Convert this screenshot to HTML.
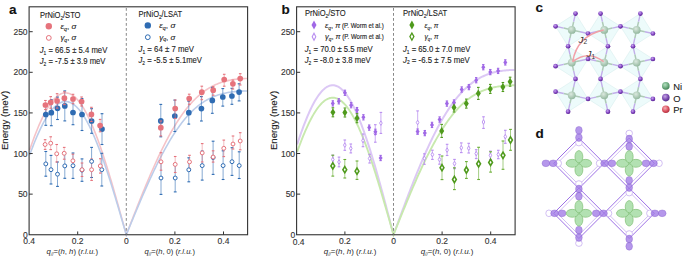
<!DOCTYPE html>
<html><head><meta charset="utf-8"><style>html,body{margin:0;padding:0;background:#fff;}svg{display:block;}</style></head><body>
<svg width="685" height="258" viewBox="0 0 685 258" font-family='"Liberation Sans", sans-serif'>
<rect width="685" height="258" fill="#fff"/>
<path d="M29.70 149.89 L30.50 147.54 L31.31 145.24 L32.11 142.97 L32.92 140.74 L33.72 138.55 L34.53 136.40 L35.33 134.29 L36.14 132.23 L36.94 130.21 L37.75 128.24 L38.56 126.31 L39.36 124.43 L40.17 122.60 L40.97 120.81 L41.78 119.07 L42.58 117.39 L43.38 115.75 L44.19 114.17 L45.00 112.64 L45.80 111.16 L46.61 109.73 L47.41 108.36 L48.22 107.04 L49.02 105.78 L49.83 104.58 L50.63 103.43 L51.44 102.34 L52.24 101.30 L53.04 100.33 L53.85 99.41 L54.65 98.55 L55.46 97.75 L56.27 97.02 L57.07 96.34 L57.88 95.72 L58.68 95.16 L59.48 94.67 L60.29 94.23 L61.09 93.86 L61.90 93.55 L62.70 93.29 L63.51 93.11 L64.31 92.98 L65.12 92.92 L65.92 92.91 L66.73 92.97 L67.53 93.10 L68.34 93.28 L69.14 93.53 L69.95 93.83 L70.75 94.20 L71.56 94.63 L72.36 95.13 L73.17 95.68 L73.97 96.29 L74.78 96.97 L75.58 97.70 L76.39 98.50 L77.19 99.35 L78.00 100.26 L78.81 101.23 L79.61 102.26 L80.41 103.35 L81.22 104.50 L82.02 105.70 L82.83 106.95 L83.63 108.27 L84.44 109.63 L85.24 111.06 L86.05 112.53 L86.85 114.06 L87.66 115.64 L88.46 117.27 L89.27 118.96 L90.07 120.69 L90.88 122.47 L91.69 124.30 L92.49 126.18 L93.29 128.11 L94.10 130.08 L94.91 132.09 L95.71 134.15 L96.51 136.26 L97.32 138.40 L98.12 140.59 L98.93 142.81 L99.73 145.08 L100.54 147.38 L101.34 149.73 L102.15 152.10 L102.95 154.52 L103.76 156.96 L104.56 159.44 L105.37 161.96 L106.17 164.50 L106.98 167.07 L107.78 169.67 L108.59 172.30 L109.39 174.96 L110.20 177.64 L111.00 180.34 L111.81 183.07 L112.61 185.82 L113.42 188.59 L114.22 191.38 L115.03 194.19 L115.84 197.02 L116.64 199.86 L117.44 202.71 L118.25 205.58 L119.06 208.46 L119.86 211.36 L120.66 214.26 L121.47 217.17 L122.28 220.09 L123.08 223.01 L123.88 225.94 L124.69 228.88 L125.50 231.81 L126.30 234.75 L127.31 232.16 L128.31 229.56 L129.32 226.97 L130.32 224.38 L131.33 221.79 L132.34 219.21 L133.34 216.64 L134.35 214.07 L135.35 211.51 L136.36 208.96 L137.36 206.41 L138.37 203.88 L139.38 201.36 L140.38 198.85 L141.39 196.35 L142.39 193.87 L143.40 191.40 L144.41 188.95 L145.41 186.51 L146.42 184.09 L147.42 181.69 L148.43 179.31 L149.43 176.95 L150.44 174.60 L151.45 172.28 L152.45 169.98 L153.46 167.70 L154.46 165.45 L155.47 163.22 L156.47 161.01 L157.48 158.83 L158.49 156.68 L159.49 154.55 L160.50 152.45 L161.50 150.37 L162.51 148.33 L163.52 146.31 L164.52 144.32 L165.53 142.36 L166.53 140.43 L167.54 138.53 L168.54 136.66 L169.55 134.82 L170.56 133.01 L171.56 131.24 L172.57 129.50 L173.57 127.78 L174.58 126.11 L175.59 124.46 L176.59 122.85 L177.60 121.26 L178.60 119.72 L179.61 118.20 L180.62 116.72 L181.62 115.27 L182.63 113.86 L183.63 112.48 L184.64 111.13 L185.64 109.81 L186.65 108.53 L187.66 107.28 L188.66 106.07 L189.67 104.88 L190.67 103.73 L191.68 102.62 L192.69 101.53 L193.69 100.47 L194.70 99.45 L195.70 98.46 L196.71 97.50 L197.71 96.57 L198.72 95.67 L199.73 94.80 L200.73 93.96 L201.74 93.15 L202.74 92.37 L203.75 91.61 L204.75 90.88 L205.76 90.19 L206.77 89.51 L207.77 88.87 L208.78 88.25 L209.78 87.65 L210.79 87.08 L211.80 86.53 L212.80 86.01 L213.81 85.51 L214.81 85.03 L215.82 84.58 L216.82 84.14 L217.83 83.73 L218.84 83.34 L219.84 82.96 L220.85 82.61 L221.85 82.27 L222.86 81.95 L223.87 81.65 L224.87 81.37 L225.88 81.10 L226.88 80.85 L227.89 80.62 L228.90 80.40 L229.90 80.19 L230.91 80.00 L231.91 79.82 L232.92 79.65 L233.92 79.50 L234.93 79.36 L235.94 79.23 L236.94 79.11 L237.95 79.01 L238.95 78.91 L239.96 78.83 L240.96 78.76 L241.97 78.70 L242.98 78.64 L243.98 78.60 L244.99 78.57 L245.99 78.55 L247.00 78.53" fill="none" stroke="#f5c3c8" stroke-width="1.6"/>
<path d="M29.70 154.94 L30.50 152.74 L31.31 150.58 L32.11 148.45 L32.92 146.36 L33.72 144.30 L34.53 142.29 L35.33 140.31 L36.14 138.37 L36.94 136.48 L37.75 134.63 L38.56 132.82 L39.36 131.06 L40.17 129.34 L40.97 127.66 L41.78 126.04 L42.58 124.45 L43.38 122.92 L44.19 121.44 L45.00 120.00 L45.80 118.62 L46.61 117.28 L47.41 116.00 L48.22 114.76 L49.02 113.58 L49.83 112.45 L50.63 111.38 L51.44 110.36 L52.24 109.39 L53.04 108.48 L53.85 107.62 L54.65 106.82 L55.46 106.07 L56.27 105.38 L57.07 104.74 L57.88 104.16 L58.68 103.64 L59.48 103.18 L60.29 102.77 L61.09 102.42 L61.90 102.13 L62.70 101.90 L63.51 101.72 L64.31 101.60 L65.12 101.54 L65.92 101.54 L66.73 101.60 L67.53 101.71 L68.34 101.88 L69.14 102.11 L69.95 102.40 L70.75 102.75 L71.56 103.15 L72.36 103.61 L73.17 104.13 L73.97 104.70 L74.78 105.33 L75.58 106.02 L76.39 106.76 L77.19 107.56 L78.00 108.42 L78.81 109.33 L79.61 110.29 L80.41 111.31 L81.22 112.38 L82.02 113.50 L82.83 114.68 L83.63 115.91 L84.44 117.19 L85.24 118.52 L86.05 119.91 L86.85 121.34 L87.66 122.82 L88.46 124.35 L89.27 125.93 L90.07 127.55 L90.88 129.22 L91.69 130.94 L92.49 132.70 L93.29 134.50 L94.10 136.35 L94.91 138.24 L95.71 140.18 L96.51 142.15 L97.32 144.16 L98.12 146.21 L98.93 148.30 L99.73 150.43 L100.54 152.59 L101.34 154.79 L102.15 157.03 L102.95 159.29 L103.76 161.59 L104.56 163.92 L105.37 166.28 L106.17 168.67 L106.98 171.09 L107.78 173.53 L108.59 176.01 L109.39 178.50 L110.20 181.02 L111.00 183.57 L111.81 186.13 L112.61 188.72 L113.42 191.32 L114.22 193.95 L115.03 196.59 L115.84 199.24 L116.64 201.92 L117.44 204.60 L118.25 207.30 L119.06 210.01 L119.86 212.74 L120.66 215.47 L121.47 218.21 L122.28 220.95 L123.08 223.71 L123.88 226.46 L124.69 229.22 L125.50 231.99 L126.30 234.75 L127.31 232.31 L128.31 229.87 L129.32 227.43 L130.32 224.99 L131.33 222.56 L132.34 220.13 L133.34 217.71 L134.35 215.29 L135.35 212.88 L136.36 210.48 L137.36 208.09 L138.37 205.71 L139.38 203.34 L140.38 200.98 L141.39 198.63 L142.39 196.30 L143.40 193.98 L144.41 191.68 L145.41 189.39 L146.42 187.12 L147.42 184.87 L148.43 182.63 L149.43 180.42 L150.44 178.22 L151.45 176.05 L152.45 173.89 L153.46 171.76 L154.46 169.65 L155.47 167.56 L156.47 165.50 L157.48 163.46 L158.49 161.45 L159.49 159.46 L160.50 157.50 L161.50 155.57 L162.51 153.66 L163.52 151.78 L164.52 149.93 L165.53 148.10 L166.53 146.31 L167.54 144.55 L168.54 142.81 L169.55 141.11 L170.56 139.43 L171.56 137.79 L172.57 136.18 L173.57 134.60 L174.58 133.05 L175.59 131.53 L176.59 130.04 L177.60 128.59 L178.60 127.17 L179.61 125.78 L180.62 124.42 L181.62 123.09 L182.63 121.80 L183.63 120.54 L184.64 119.31 L185.64 118.11 L186.65 116.95 L187.66 115.82 L188.66 114.71 L189.67 113.64 L190.67 112.61 L191.68 111.60 L192.69 110.62 L193.69 109.68 L194.70 108.76 L195.70 107.87 L196.71 107.02 L197.71 106.19 L198.72 105.39 L199.73 104.62 L200.73 103.88 L201.74 103.17 L202.74 102.48 L203.75 101.82 L204.75 101.19 L205.76 100.58 L206.77 100.00 L207.77 99.44 L208.78 98.91 L209.78 98.40 L210.79 97.91 L211.80 97.44 L212.80 97.00 L213.81 96.58 L214.81 96.18 L215.82 95.80 L216.82 95.44 L217.83 95.09 L218.84 94.77 L219.84 94.46 L220.85 94.17 L221.85 93.90 L222.86 93.64 L223.87 93.40 L224.87 93.18 L225.88 92.96 L226.88 92.76 L227.89 92.58 L228.90 92.41 L229.90 92.25 L230.91 92.10 L231.91 91.96 L232.92 91.83 L233.92 91.72 L234.93 91.61 L235.94 91.51 L236.94 91.42 L237.95 91.34 L238.95 91.27 L239.96 91.21 L240.96 91.16 L241.97 91.11 L242.98 91.07 L243.98 91.04 L244.99 91.02 L245.99 91.00 L247.00 90.99" fill="none" stroke="#bccdea" stroke-width="1.6"/>
<g stroke="#2f6cb3"><line x1="45.80" y1="151.50" x2="45.80" y2="176.20" stroke-width="0.90" opacity="0.64"/><line x1="44.40" y1="151.50" x2="47.20" y2="151.50" stroke-width="1.1"/><line x1="44.40" y1="176.20" x2="47.20" y2="176.20" stroke-width="1.1"/></g>
<g stroke="#2f6cb3"><line x1="51.00" y1="155.40" x2="51.00" y2="184.00" stroke-width="0.90" opacity="0.64"/><line x1="49.60" y1="155.40" x2="52.40" y2="155.40" stroke-width="1.1"/><line x1="49.60" y1="184.00" x2="52.40" y2="184.00" stroke-width="1.1"/></g>
<g stroke="#2f6cb3"><line x1="57.50" y1="162.00" x2="57.50" y2="186.40" stroke-width="0.90" opacity="0.64"/><line x1="56.10" y1="162.00" x2="58.90" y2="162.00" stroke-width="1.1"/><line x1="56.10" y1="186.40" x2="58.90" y2="186.40" stroke-width="1.1"/></g>
<g stroke="#2f6cb3"><line x1="64.80" y1="153.50" x2="64.80" y2="178.30" stroke-width="0.90" opacity="0.64"/><line x1="63.40" y1="153.50" x2="66.20" y2="153.50" stroke-width="1.1"/><line x1="63.40" y1="178.30" x2="66.20" y2="178.30" stroke-width="1.1"/></g>
<g stroke="#2f6cb3"><line x1="73.00" y1="153.00" x2="73.00" y2="178.40" stroke-width="0.90" opacity="0.64"/><line x1="71.60" y1="153.00" x2="74.40" y2="153.00" stroke-width="1.1"/><line x1="71.60" y1="178.40" x2="74.40" y2="178.40" stroke-width="1.1"/></g>
<g stroke="#2f6cb3"><line x1="82.00" y1="158.90" x2="82.00" y2="181.30" stroke-width="0.90" opacity="0.64"/><line x1="80.60" y1="158.90" x2="83.40" y2="158.90" stroke-width="1.1"/><line x1="80.60" y1="181.30" x2="83.40" y2="181.30" stroke-width="1.1"/></g>
<g stroke="#2f6cb3"><line x1="91.60" y1="147.40" x2="91.60" y2="177.50" stroke-width="0.90" opacity="0.64"/><line x1="90.20" y1="147.40" x2="93.00" y2="147.40" stroke-width="1.1"/><line x1="90.20" y1="177.50" x2="93.00" y2="177.50" stroke-width="1.1"/></g>
<g stroke="#2f6cb3"><line x1="101.80" y1="153.30" x2="101.80" y2="186.00" stroke-width="0.90" opacity="0.64"/><line x1="100.40" y1="153.30" x2="103.20" y2="153.30" stroke-width="1.1"/><line x1="100.40" y1="186.00" x2="103.20" y2="186.00" stroke-width="1.1"/></g>
<g stroke="#2f6cb3"><line x1="161.00" y1="161.80" x2="161.00" y2="194.40" stroke-width="0.90" opacity="0.64"/><line x1="159.60" y1="161.80" x2="162.40" y2="161.80" stroke-width="1.1"/><line x1="159.60" y1="194.40" x2="162.40" y2="194.40" stroke-width="1.1"/></g>
<g stroke="#2f6cb3"><line x1="175.20" y1="164.00" x2="175.20" y2="191.90" stroke-width="0.90" opacity="0.64"/><line x1="173.80" y1="164.00" x2="176.60" y2="164.00" stroke-width="1.1"/><line x1="173.80" y1="191.90" x2="176.60" y2="191.90" stroke-width="1.1"/></g>
<g stroke="#2f6cb3"><line x1="188.80" y1="157.80" x2="188.80" y2="181.80" stroke-width="0.90" opacity="0.64"/><line x1="187.40" y1="157.80" x2="190.20" y2="157.80" stroke-width="1.1"/><line x1="187.40" y1="181.80" x2="190.20" y2="181.80" stroke-width="1.1"/></g>
<g stroke="#2f6cb3"><line x1="202.20" y1="151.00" x2="202.20" y2="180.10" stroke-width="0.90" opacity="0.64"/><line x1="200.80" y1="151.00" x2="203.60" y2="151.00" stroke-width="1.1"/><line x1="200.80" y1="180.10" x2="203.60" y2="180.10" stroke-width="1.1"/></g>
<g stroke="#2f6cb3"><line x1="213.10" y1="141.20" x2="213.10" y2="174.40" stroke-width="0.90" opacity="0.64"/><line x1="211.70" y1="141.20" x2="214.50" y2="141.20" stroke-width="1.1"/><line x1="211.70" y1="174.40" x2="214.50" y2="174.40" stroke-width="1.1"/></g>
<g stroke="#2f6cb3"><line x1="223.10" y1="150.80" x2="223.10" y2="179.50" stroke-width="0.90" opacity="0.64"/><line x1="221.70" y1="150.80" x2="224.50" y2="150.80" stroke-width="1.1"/><line x1="221.70" y1="179.50" x2="224.50" y2="179.50" stroke-width="1.1"/></g>
<g stroke="#2f6cb3"><line x1="232.00" y1="147.70" x2="232.00" y2="175.40" stroke-width="0.90" opacity="0.64"/><line x1="230.60" y1="147.70" x2="233.40" y2="147.70" stroke-width="1.1"/><line x1="230.60" y1="175.40" x2="233.40" y2="175.40" stroke-width="1.1"/></g>
<g stroke="#2f6cb3"><line x1="239.20" y1="151.80" x2="239.20" y2="178.50" stroke-width="0.90" opacity="0.64"/><line x1="237.80" y1="151.80" x2="240.60" y2="151.80" stroke-width="1.1"/><line x1="237.80" y1="178.50" x2="240.60" y2="178.50" stroke-width="1.1"/></g>
<g stroke="#e6737c"><line x1="45.10" y1="139.70" x2="45.10" y2="149.40" stroke-width="0.80" opacity="0.60"/><line x1="43.80" y1="139.70" x2="46.40" y2="139.70" stroke-width="1.1"/><line x1="43.80" y1="149.40" x2="46.40" y2="149.40" stroke-width="1.1"/></g>
<g stroke="#e6737c"><line x1="50.70" y1="136.80" x2="50.70" y2="149.60" stroke-width="0.80" opacity="0.60"/><line x1="49.40" y1="136.80" x2="52.00" y2="136.80" stroke-width="1.1"/><line x1="49.40" y1="149.60" x2="52.00" y2="149.60" stroke-width="1.1"/></g>
<g stroke="#e6737c"><line x1="56.70" y1="144.50" x2="56.70" y2="162.00" stroke-width="0.80" opacity="0.60"/><line x1="55.40" y1="144.50" x2="58.00" y2="144.50" stroke-width="1.1"/><line x1="55.40" y1="162.00" x2="58.00" y2="162.00" stroke-width="1.1"/></g>
<g stroke="#e6737c"><line x1="64.20" y1="147.40" x2="64.20" y2="159.20" stroke-width="0.80" opacity="0.60"/><line x1="62.90" y1="147.40" x2="65.50" y2="147.40" stroke-width="1.1"/><line x1="62.90" y1="159.20" x2="65.50" y2="159.20" stroke-width="1.1"/></g>
<g stroke="#e6737c"><line x1="72.90" y1="154.20" x2="72.90" y2="167.40" stroke-width="0.80" opacity="0.60"/><line x1="71.60" y1="154.20" x2="74.20" y2="154.20" stroke-width="1.1"/><line x1="71.60" y1="167.40" x2="74.20" y2="167.40" stroke-width="1.1"/></g>
<g stroke="#e6737c"><line x1="82.00" y1="163.00" x2="82.00" y2="176.50" stroke-width="0.80" opacity="0.60"/><line x1="80.70" y1="163.00" x2="83.30" y2="163.00" stroke-width="1.1"/><line x1="80.70" y1="176.50" x2="83.30" y2="176.50" stroke-width="1.1"/></g>
<g stroke="#e6737c"><line x1="91.60" y1="159.00" x2="91.60" y2="180.40" stroke-width="0.80" opacity="0.60"/><line x1="90.30" y1="159.00" x2="92.90" y2="159.00" stroke-width="1.1"/><line x1="90.30" y1="180.40" x2="92.90" y2="180.40" stroke-width="1.1"/></g>
<g stroke="#e6737c"><line x1="100.30" y1="158.70" x2="100.30" y2="173.10" stroke-width="0.80" opacity="0.60"/><line x1="99.00" y1="158.70" x2="101.60" y2="158.70" stroke-width="1.1"/><line x1="99.00" y1="173.10" x2="101.60" y2="173.10" stroke-width="1.1"/></g>
<g stroke="#e6737c"><line x1="161.00" y1="152.70" x2="161.00" y2="170.20" stroke-width="0.80" opacity="0.60"/><line x1="159.70" y1="152.70" x2="162.30" y2="152.70" stroke-width="1.1"/><line x1="159.70" y1="170.20" x2="162.30" y2="170.20" stroke-width="1.1"/></g>
<g stroke="#e6737c"><line x1="175.20" y1="156.50" x2="175.20" y2="172.50" stroke-width="0.80" opacity="0.60"/><line x1="173.90" y1="156.50" x2="176.50" y2="156.50" stroke-width="1.1"/><line x1="173.90" y1="172.50" x2="176.50" y2="172.50" stroke-width="1.1"/></g>
<g stroke="#e6737c"><line x1="189.50" y1="155.30" x2="189.50" y2="168.50" stroke-width="0.80" opacity="0.60"/><line x1="188.20" y1="155.30" x2="190.80" y2="155.30" stroke-width="1.1"/><line x1="188.20" y1="168.50" x2="190.80" y2="168.50" stroke-width="1.1"/></g>
<g stroke="#e6737c"><line x1="202.20" y1="143.60" x2="202.20" y2="162.00" stroke-width="0.80" opacity="0.60"/><line x1="200.90" y1="143.60" x2="203.50" y2="143.60" stroke-width="1.1"/><line x1="200.90" y1="162.00" x2="203.50" y2="162.00" stroke-width="1.1"/></g>
<g stroke="#e6737c"><line x1="213.10" y1="150.80" x2="213.10" y2="162.10" stroke-width="0.80" opacity="0.60"/><line x1="211.80" y1="150.80" x2="214.40" y2="150.80" stroke-width="1.1"/><line x1="211.80" y1="162.10" x2="214.40" y2="162.10" stroke-width="1.1"/></g>
<g stroke="#e6737c"><line x1="223.80" y1="140.10" x2="223.80" y2="156.60" stroke-width="0.80" opacity="0.60"/><line x1="222.50" y1="140.10" x2="225.10" y2="140.10" stroke-width="1.1"/><line x1="222.50" y1="156.60" x2="225.10" y2="156.60" stroke-width="1.1"/></g>
<g stroke="#e6737c"><line x1="233.00" y1="136.00" x2="233.00" y2="149.00" stroke-width="0.80" opacity="0.60"/><line x1="231.70" y1="136.00" x2="234.30" y2="136.00" stroke-width="1.1"/><line x1="231.70" y1="149.00" x2="234.30" y2="149.00" stroke-width="1.1"/></g>
<g stroke="#e6737c"><line x1="240.20" y1="132.70" x2="240.20" y2="149.80" stroke-width="0.80" opacity="0.60"/><line x1="238.90" y1="132.70" x2="241.50" y2="132.70" stroke-width="1.1"/><line x1="238.90" y1="149.80" x2="241.50" y2="149.80" stroke-width="1.1"/></g>
<circle cx="45.80" cy="163.90" r="1.95" fill="#fff" stroke="#2f6cb3" stroke-width="1.0"/>
<circle cx="51.00" cy="169.70" r="1.95" fill="#fff" stroke="#2f6cb3" stroke-width="1.0"/>
<circle cx="57.50" cy="174.20" r="1.95" fill="#fff" stroke="#2f6cb3" stroke-width="1.0"/>
<circle cx="64.80" cy="165.90" r="1.95" fill="#fff" stroke="#2f6cb3" stroke-width="1.0"/>
<circle cx="73.00" cy="165.70" r="1.95" fill="#fff" stroke="#2f6cb3" stroke-width="1.0"/>
<circle cx="82.00" cy="170.10" r="1.95" fill="#fff" stroke="#2f6cb3" stroke-width="1.0"/>
<circle cx="91.60" cy="161.40" r="1.95" fill="#fff" stroke="#2f6cb3" stroke-width="1.0"/>
<circle cx="101.80" cy="169.70" r="1.95" fill="#fff" stroke="#2f6cb3" stroke-width="1.0"/>
<circle cx="161.00" cy="178.00" r="1.95" fill="#fff" stroke="#2f6cb3" stroke-width="1.0"/>
<circle cx="175.20" cy="178.00" r="1.95" fill="#fff" stroke="#2f6cb3" stroke-width="1.0"/>
<circle cx="188.80" cy="169.80" r="1.95" fill="#fff" stroke="#2f6cb3" stroke-width="1.0"/>
<circle cx="202.20" cy="165.60" r="1.95" fill="#fff" stroke="#2f6cb3" stroke-width="1.0"/>
<circle cx="213.10" cy="157.60" r="1.95" fill="#fff" stroke="#2f6cb3" stroke-width="1.0"/>
<circle cx="223.10" cy="165.60" r="1.95" fill="#fff" stroke="#2f6cb3" stroke-width="1.0"/>
<circle cx="232.00" cy="161.70" r="1.95" fill="#fff" stroke="#2f6cb3" stroke-width="1.0"/>
<circle cx="239.20" cy="165.60" r="1.95" fill="#fff" stroke="#2f6cb3" stroke-width="1.0"/>
<circle cx="45.10" cy="144.50" r="1.95" fill="#fff" stroke="#e6737c" stroke-width="1.0"/>
<circle cx="50.70" cy="143.20" r="1.95" fill="#fff" stroke="#e6737c" stroke-width="1.0"/>
<circle cx="56.70" cy="153.80" r="1.95" fill="#fff" stroke="#e6737c" stroke-width="1.0"/>
<circle cx="64.20" cy="153.30" r="1.95" fill="#fff" stroke="#e6737c" stroke-width="1.0"/>
<circle cx="72.90" cy="160.80" r="1.95" fill="#fff" stroke="#e6737c" stroke-width="1.0"/>
<circle cx="82.00" cy="169.70" r="1.95" fill="#fff" stroke="#e6737c" stroke-width="1.0"/>
<circle cx="91.60" cy="169.70" r="1.95" fill="#fff" stroke="#e6737c" stroke-width="1.0"/>
<circle cx="100.30" cy="165.90" r="1.95" fill="#fff" stroke="#e6737c" stroke-width="1.0"/>
<circle cx="161.00" cy="161.80" r="1.95" fill="#fff" stroke="#e6737c" stroke-width="1.0"/>
<circle cx="175.20" cy="164.40" r="1.95" fill="#fff" stroke="#e6737c" stroke-width="1.0"/>
<circle cx="189.50" cy="161.90" r="1.95" fill="#fff" stroke="#e6737c" stroke-width="1.0"/>
<circle cx="202.20" cy="152.90" r="1.95" fill="#fff" stroke="#e6737c" stroke-width="1.0"/>
<circle cx="213.10" cy="157.00" r="1.95" fill="#fff" stroke="#e6737c" stroke-width="1.0"/>
<circle cx="223.80" cy="148.30" r="1.95" fill="#fff" stroke="#e6737c" stroke-width="1.0"/>
<circle cx="233.00" cy="144.00" r="1.95" fill="#fff" stroke="#e6737c" stroke-width="1.0"/>
<circle cx="240.20" cy="141.00" r="1.95" fill="#fff" stroke="#e6737c" stroke-width="1.0"/>
<g stroke="#2f6cb3"><line x1="45.80" y1="103.70" x2="45.80" y2="125.30" stroke-width="0.90" opacity="0.64"/><line x1="44.40" y1="103.70" x2="47.20" y2="103.70" stroke-width="1.1"/><line x1="44.40" y1="125.30" x2="47.20" y2="125.30" stroke-width="1.1"/></g>
<g stroke="#2f6cb3"><line x1="51.30" y1="99.70" x2="51.30" y2="125.70" stroke-width="0.90" opacity="0.64"/><line x1="49.90" y1="99.70" x2="52.70" y2="99.70" stroke-width="1.1"/><line x1="49.90" y1="125.70" x2="52.70" y2="125.70" stroke-width="1.1"/></g>
<g stroke="#2f6cb3"><line x1="57.50" y1="97.10" x2="57.50" y2="119.50" stroke-width="0.90" opacity="0.64"/><line x1="56.10" y1="97.10" x2="58.90" y2="97.10" stroke-width="1.1"/><line x1="56.10" y1="119.50" x2="58.90" y2="119.50" stroke-width="1.1"/></g>
<g stroke="#2f6cb3"><line x1="64.80" y1="90.90" x2="64.80" y2="120.90" stroke-width="0.90" opacity="0.64"/><line x1="63.40" y1="90.90" x2="66.20" y2="90.90" stroke-width="1.1"/><line x1="63.40" y1="120.90" x2="66.20" y2="120.90" stroke-width="1.1"/></g>
<g stroke="#2f6cb3"><line x1="73.00" y1="100.30" x2="73.00" y2="124.70" stroke-width="0.90" opacity="0.64"/><line x1="71.60" y1="100.30" x2="74.40" y2="100.30" stroke-width="1.1"/><line x1="71.60" y1="124.70" x2="74.40" y2="124.70" stroke-width="1.1"/></g>
<g stroke="#2f6cb3"><line x1="82.00" y1="98.50" x2="82.00" y2="130.50" stroke-width="0.90" opacity="0.64"/><line x1="80.60" y1="98.50" x2="83.40" y2="98.50" stroke-width="1.1"/><line x1="80.60" y1="130.50" x2="83.40" y2="130.50" stroke-width="1.1"/></g>
<g stroke="#2f6cb3"><line x1="91.60" y1="108.70" x2="91.60" y2="133.30" stroke-width="0.90" opacity="0.64"/><line x1="90.20" y1="108.70" x2="93.00" y2="108.70" stroke-width="1.1"/><line x1="90.20" y1="133.30" x2="93.00" y2="133.30" stroke-width="1.1"/></g>
<g stroke="#2f6cb3"><line x1="102.00" y1="113.70" x2="102.00" y2="144.50" stroke-width="0.90" opacity="0.64"/><line x1="100.60" y1="113.70" x2="103.40" y2="113.70" stroke-width="1.1"/><line x1="100.60" y1="144.50" x2="103.40" y2="144.50" stroke-width="1.1"/></g>
<g stroke="#2f6cb3"><line x1="160.80" y1="104.40" x2="160.80" y2="136.80" stroke-width="0.90" opacity="0.64"/><line x1="159.40" y1="104.40" x2="162.20" y2="104.40" stroke-width="1.1"/><line x1="159.40" y1="136.80" x2="162.20" y2="136.80" stroke-width="1.1"/></g>
<g stroke="#2f6cb3"><line x1="174.80" y1="100.10" x2="174.80" y2="131.50" stroke-width="0.90" opacity="0.64"/><line x1="173.40" y1="100.10" x2="176.20" y2="100.10" stroke-width="1.1"/><line x1="173.40" y1="131.50" x2="176.20" y2="131.50" stroke-width="1.1"/></g>
<g stroke="#2f6cb3"><line x1="188.80" y1="101.30" x2="188.80" y2="124.10" stroke-width="0.90" opacity="0.64"/><line x1="187.40" y1="101.30" x2="190.20" y2="101.30" stroke-width="1.1"/><line x1="187.40" y1="124.10" x2="190.20" y2="124.10" stroke-width="1.1"/></g>
<g stroke="#2f6cb3"><line x1="201.40" y1="96.60" x2="201.40" y2="121.00" stroke-width="0.90" opacity="0.64"/><line x1="200.00" y1="96.60" x2="202.80" y2="96.60" stroke-width="1.1"/><line x1="200.00" y1="121.00" x2="202.80" y2="121.00" stroke-width="1.1"/></g>
<g stroke="#2f6cb3"><line x1="212.30" y1="87.30" x2="212.30" y2="113.30" stroke-width="0.90" opacity="0.64"/><line x1="210.90" y1="87.30" x2="213.70" y2="87.30" stroke-width="1.1"/><line x1="210.90" y1="113.30" x2="213.70" y2="113.30" stroke-width="1.1"/></g>
<g stroke="#2f6cb3"><line x1="222.80" y1="88.60" x2="222.80" y2="106.10" stroke-width="0.90" opacity="0.64"/><line x1="221.40" y1="88.60" x2="224.20" y2="88.60" stroke-width="1.1"/><line x1="221.40" y1="106.10" x2="224.20" y2="106.10" stroke-width="1.1"/></g>
<g stroke="#2f6cb3"><line x1="231.90" y1="88.30" x2="231.90" y2="104.30" stroke-width="0.90" opacity="0.64"/><line x1="230.50" y1="88.30" x2="233.30" y2="88.30" stroke-width="1.1"/><line x1="230.50" y1="104.30" x2="233.30" y2="104.30" stroke-width="1.1"/></g>
<g stroke="#2f6cb3"><line x1="239.10" y1="83.80" x2="239.10" y2="100.90" stroke-width="0.90" opacity="0.64"/><line x1="237.70" y1="83.80" x2="240.50" y2="83.80" stroke-width="1.1"/><line x1="237.70" y1="100.90" x2="240.50" y2="100.90" stroke-width="1.1"/></g>
<circle cx="45.80" cy="114.50" r="2.85" fill="#2f6cb3"/>
<circle cx="51.30" cy="112.70" r="2.85" fill="#2f6cb3"/>
<circle cx="57.50" cy="108.30" r="2.85" fill="#2f6cb3"/>
<circle cx="64.80" cy="105.90" r="2.85" fill="#2f6cb3"/>
<circle cx="73.00" cy="112.50" r="2.85" fill="#2f6cb3"/>
<circle cx="82.00" cy="114.50" r="2.85" fill="#2f6cb3"/>
<circle cx="91.60" cy="121.00" r="2.85" fill="#2f6cb3"/>
<circle cx="102.00" cy="129.10" r="2.85" fill="#2f6cb3"/>
<circle cx="160.80" cy="120.90" r="2.85" fill="#2f6cb3"/>
<circle cx="174.80" cy="116.00" r="2.85" fill="#2f6cb3"/>
<circle cx="188.80" cy="112.70" r="2.85" fill="#2f6cb3"/>
<circle cx="201.40" cy="108.60" r="2.85" fill="#2f6cb3"/>
<circle cx="212.30" cy="100.40" r="2.85" fill="#2f6cb3"/>
<circle cx="222.80" cy="97.00" r="2.85" fill="#2f6cb3"/>
<circle cx="231.90" cy="96.00" r="2.85" fill="#2f6cb3"/>
<circle cx="239.10" cy="92.10" r="2.85" fill="#2f6cb3"/>
<g stroke="#e6737c"><line x1="45.40" y1="100.50" x2="45.40" y2="109.50" stroke-width="0.80" opacity="0.68"/><line x1="44.10" y1="100.50" x2="46.70" y2="100.50" stroke-width="1.1"/><line x1="44.10" y1="109.50" x2="46.70" y2="109.50" stroke-width="1.1"/></g>
<g stroke="#e6737c"><line x1="50.70" y1="96.60" x2="50.70" y2="108.20" stroke-width="0.80" opacity="0.68"/><line x1="49.40" y1="96.60" x2="52.00" y2="96.60" stroke-width="1.1"/><line x1="49.40" y1="108.20" x2="52.00" y2="108.20" stroke-width="1.1"/></g>
<g stroke="#e6737c"><line x1="57.10" y1="93.70" x2="57.10" y2="108.10" stroke-width="0.80" opacity="0.68"/><line x1="55.80" y1="93.70" x2="58.40" y2="93.70" stroke-width="1.1"/><line x1="55.80" y1="108.10" x2="58.40" y2="108.10" stroke-width="1.1"/></g>
<g stroke="#e6737c"><line x1="64.40" y1="91.80" x2="64.40" y2="104.60" stroke-width="0.80" opacity="0.68"/><line x1="63.10" y1="91.80" x2="65.70" y2="91.80" stroke-width="1.1"/><line x1="63.10" y1="104.60" x2="65.70" y2="104.60" stroke-width="1.1"/></g>
<g stroke="#e6737c"><line x1="73.00" y1="94.30" x2="73.00" y2="103.70" stroke-width="0.80" opacity="0.68"/><line x1="71.70" y1="94.30" x2="74.30" y2="94.30" stroke-width="1.1"/><line x1="71.70" y1="103.70" x2="74.30" y2="103.70" stroke-width="1.1"/></g>
<g stroke="#e6737c"><line x1="81.60" y1="97.00" x2="81.60" y2="106.00" stroke-width="0.80" opacity="0.68"/><line x1="80.30" y1="97.00" x2="82.90" y2="97.00" stroke-width="1.1"/><line x1="80.30" y1="106.00" x2="82.90" y2="106.00" stroke-width="1.1"/></g>
<g stroke="#e6737c"><line x1="91.40" y1="107.30" x2="91.40" y2="121.50" stroke-width="0.80" opacity="0.68"/><line x1="90.10" y1="107.30" x2="92.70" y2="107.30" stroke-width="1.1"/><line x1="90.10" y1="121.50" x2="92.70" y2="121.50" stroke-width="1.1"/></g>
<g stroke="#e6737c"><line x1="100.10" y1="119.40" x2="100.10" y2="131.80" stroke-width="0.80" opacity="0.68"/><line x1="98.80" y1="119.40" x2="101.40" y2="119.40" stroke-width="1.1"/><line x1="98.80" y1="131.80" x2="101.40" y2="131.80" stroke-width="1.1"/></g>
<g stroke="#e6737c"><line x1="160.80" y1="121.00" x2="160.80" y2="135.90" stroke-width="0.80" opacity="0.68"/><line x1="159.50" y1="121.00" x2="162.10" y2="121.00" stroke-width="1.1"/><line x1="159.50" y1="135.90" x2="162.10" y2="135.90" stroke-width="1.1"/></g>
<g stroke="#e6737c"><line x1="175.20" y1="100.00" x2="175.20" y2="118.50" stroke-width="0.80" opacity="0.68"/><line x1="173.90" y1="100.00" x2="176.50" y2="100.00" stroke-width="1.1"/><line x1="173.90" y1="118.50" x2="176.50" y2="118.50" stroke-width="1.1"/></g>
<g stroke="#e6737c"><line x1="189.20" y1="94.20" x2="189.20" y2="104.30" stroke-width="0.80" opacity="0.68"/><line x1="187.90" y1="94.20" x2="190.50" y2="94.20" stroke-width="1.1"/><line x1="187.90" y1="104.30" x2="190.50" y2="104.30" stroke-width="1.1"/></g>
<g stroke="#e6737c"><line x1="201.80" y1="86.20" x2="201.80" y2="99.70" stroke-width="0.80" opacity="0.68"/><line x1="200.50" y1="86.20" x2="203.10" y2="86.20" stroke-width="1.1"/><line x1="200.50" y1="99.70" x2="203.10" y2="99.70" stroke-width="1.1"/></g>
<g stroke="#e6737c"><line x1="213.20" y1="86.70" x2="213.20" y2="95.20" stroke-width="0.80" opacity="0.68"/><line x1="211.90" y1="86.70" x2="214.50" y2="86.70" stroke-width="1.1"/><line x1="211.90" y1="95.20" x2="214.50" y2="95.20" stroke-width="1.1"/></g>
<g stroke="#e6737c"><line x1="224.20" y1="74.30" x2="224.20" y2="86.20" stroke-width="0.80" opacity="0.68"/><line x1="222.90" y1="74.30" x2="225.50" y2="74.30" stroke-width="1.1"/><line x1="222.90" y1="86.20" x2="225.50" y2="86.20" stroke-width="1.1"/></g>
<g stroke="#e6737c"><line x1="232.90" y1="80.10" x2="232.90" y2="89.00" stroke-width="0.80" opacity="0.68"/><line x1="231.60" y1="80.10" x2="234.20" y2="80.10" stroke-width="1.1"/><line x1="231.60" y1="89.00" x2="234.20" y2="89.00" stroke-width="1.1"/></g>
<g stroke="#e6737c"><line x1="240.20" y1="73.70" x2="240.20" y2="85.00" stroke-width="0.80" opacity="0.68"/><line x1="238.90" y1="73.70" x2="241.50" y2="73.70" stroke-width="1.1"/><line x1="238.90" y1="85.00" x2="241.50" y2="85.00" stroke-width="1.1"/></g>
<circle cx="45.40" cy="105.00" r="2.85" fill="#e6737c"/>
<circle cx="50.70" cy="102.40" r="2.85" fill="#e6737c"/>
<circle cx="57.10" cy="100.90" r="2.85" fill="#e6737c"/>
<circle cx="64.40" cy="98.20" r="2.85" fill="#e6737c"/>
<circle cx="73.00" cy="99.00" r="2.85" fill="#e6737c"/>
<circle cx="81.60" cy="101.50" r="2.85" fill="#e6737c"/>
<circle cx="91.40" cy="114.40" r="2.85" fill="#e6737c"/>
<circle cx="100.10" cy="125.60" r="2.85" fill="#e6737c"/>
<circle cx="160.80" cy="127.70" r="2.85" fill="#e6737c"/>
<circle cx="175.20" cy="108.50" r="2.85" fill="#e6737c"/>
<circle cx="189.20" cy="98.50" r="2.85" fill="#e6737c"/>
<circle cx="201.80" cy="92.20" r="2.85" fill="#e6737c"/>
<circle cx="213.20" cy="90.20" r="2.85" fill="#e6737c"/>
<circle cx="224.20" cy="79.50" r="2.85" fill="#e6737c"/>
<circle cx="232.90" cy="83.80" r="2.85" fill="#e6737c"/>
<circle cx="240.20" cy="78.60" r="2.85" fill="#e6737c"/>
<rect x="29.10" y="6.80" width="218.50" height="227.95" fill="none" stroke="#333" stroke-width="1.1"/>
<line x1="126.30" y1="8.00" x2="126.30" y2="234.75" stroke="#7a7a7a" stroke-width="0.9" stroke-dasharray="2.8 2.2"/>
<text x="27.80" y="237.85" font-size="8.50" text-anchor="end" font-weight="normal" font-style="normal" fill="#333" stroke="#333" stroke-width="0.12" >0</text>
<line x1="29.10" y1="194.14" x2="32.70" y2="194.14" stroke="#333" stroke-width="1"/>
<text x="27.60" y="197.24" font-size="8.50" text-anchor="end" font-weight="normal" font-style="normal" fill="#333" stroke="#333" stroke-width="0.12" >50</text>
<line x1="29.10" y1="153.53" x2="32.70" y2="153.53" stroke="#333" stroke-width="1"/>
<text x="27.60" y="156.63" font-size="8.50" text-anchor="end" font-weight="normal" font-style="normal" fill="#333" stroke="#333" stroke-width="0.12" >100</text>
<line x1="29.10" y1="112.92" x2="32.70" y2="112.92" stroke="#333" stroke-width="1"/>
<text x="27.60" y="116.02" font-size="8.50" text-anchor="end" font-weight="normal" font-style="normal" fill="#333" stroke="#333" stroke-width="0.12" >150</text>
<line x1="29.10" y1="72.31" x2="32.70" y2="72.31" stroke="#333" stroke-width="1"/>
<text x="27.60" y="75.41" font-size="8.50" text-anchor="end" font-weight="normal" font-style="normal" fill="#333" stroke="#333" stroke-width="0.12" >200</text>
<line x1="29.10" y1="31.70" x2="32.70" y2="31.70" stroke="#333" stroke-width="1"/>
<text x="27.60" y="34.80" font-size="8.50" text-anchor="end" font-weight="normal" font-style="normal" fill="#333" stroke="#333" stroke-width="0.12" >250</text>
<text x="29.10" y="243.90" font-size="8.50" text-anchor="middle" font-weight="normal" font-style="normal" fill="#333" stroke="#333" stroke-width="0.12" >0.4</text>
<line x1="77.70" y1="234.75" x2="77.70" y2="231.45" stroke="#333" stroke-width="1"/>
<text x="77.70" y="243.90" font-size="8.50" text-anchor="middle" font-weight="normal" font-style="normal" fill="#333" stroke="#333" stroke-width="0.12" >0.2</text>
<text x="126.30" y="243.90" font-size="8.50" text-anchor="middle" font-weight="normal" font-style="normal" fill="#333" stroke="#333" stroke-width="0.12" >0</text>
<line x1="174.90" y1="234.75" x2="174.90" y2="231.45" stroke="#333" stroke-width="1"/>
<text x="174.90" y="243.90" font-size="8.50" text-anchor="middle" font-weight="normal" font-style="normal" fill="#333" stroke="#333" stroke-width="0.12" >0.2</text>
<line x1="223.50" y1="234.75" x2="223.50" y2="231.45" stroke="#333" stroke-width="1"/>
<text x="223.50" y="243.90" font-size="8.50" text-anchor="middle" font-weight="normal" font-style="normal" fill="#333" stroke="#333" stroke-width="0.12" >0.4</text>
<text x="9.00" y="14.20" font-size="13.50" text-anchor="start" font-weight="bold" font-style="normal" fill="#111" stroke="#111" stroke-width="0.12" >a</text>
<text transform="translate(7.70,120.5) rotate(-90)" x="0" y="0" font-size="9.0" text-anchor="middle" fill="#222" stroke="#222" stroke-width="0.12" textLength="59.2" lengthAdjust="spacingAndGlyphs" font-family='Liberation Sans'>Energy (meV)</text>
<text x="46.60" y="254.3" font-size="7.8" fill="#2a2a2a" stroke="none" textLength="51.4" lengthAdjust="spacingAndGlyphs"><tspan font-style="italic">q</tspan><tspan font-size="4.6" dy="1.5" font-style="italic">//</tspan><tspan dy="-1.5">=(</tspan><tspan font-style="italic">h</tspan>, <tspan font-style="italic">h</tspan>) (<tspan font-style="italic">r.l.u.</tspan>)</text>
<text x="144.50" y="254.3" font-size="7.8" fill="#2a2a2a" stroke="none" textLength="50.5" lengthAdjust="spacingAndGlyphs"><tspan font-style="italic">q</tspan><tspan font-size="4.6" dy="1.5" font-style="italic">//</tspan><tspan dy="-1.5">=(</tspan><tspan font-style="italic">h</tspan>, 0) (<tspan font-style="italic">r.l.u.</tspan>)</text>
<text x="39.90" y="18.20" font-size="8.8" fill="#222" stroke="#222" stroke-width="0.12" textLength="40.6" lengthAdjust="spacingAndGlyphs">PrNiO<tspan font-size="5.4" dy="1.8">2</tspan><tspan dy="-1.8">/STO</tspan></text>
<text x="138.50" y="16.90" font-size="8.8" fill="#222" stroke="#222" stroke-width="0.12" textLength="43.5" lengthAdjust="spacingAndGlyphs">PrNiO<tspan font-size="5.4" dy="1.8">2</tspan><tspan dy="-1.8">/LSAT</tspan></text>
<circle cx="48.80" cy="26.30" r="3.20" fill="#e6737c"/>
<circle cx="48.80" cy="37.90" r="2.40" fill="#fff" stroke="#e6737c" stroke-width="1.0"/>
<circle cx="147.80" cy="25.40" r="3.20" fill="#2f6cb3"/>
<circle cx="147.80" cy="37.20" r="2.40" fill="#fff" stroke="#2f6cb3" stroke-width="1.0"/>
<text x="60.40" y="28.90" font-size="7.8" fill="#222" stroke="#222" stroke-width="0.12" textLength="16.0" lengthAdjust="spacingAndGlyphs"><tspan font-style="italic">ε</tspan><tspan font-size="5" dy="1.6" font-style="italic">q</tspan><tspan dy="-1.6">, </tspan><tspan font-style="italic">σ</tspan></text>
<text x="60.40" y="40.30" font-size="7.8" fill="#222" stroke="#222" stroke-width="0.12" textLength="16.0" lengthAdjust="spacingAndGlyphs"><tspan font-style="italic">γ</tspan><tspan font-size="5" dy="1.6" font-style="italic">q</tspan><tspan dy="-1.6">, </tspan><tspan font-style="italic">σ</tspan></text>
<text x="159.20" y="28.30" font-size="7.8" fill="#222" stroke="#222" stroke-width="0.12" textLength="16.2" lengthAdjust="spacingAndGlyphs"><tspan font-style="italic">ε</tspan><tspan font-size="5" dy="1.6" font-style="italic">q</tspan><tspan dy="-1.6">, </tspan><tspan font-style="italic">σ</tspan></text>
<text x="159.20" y="39.60" font-size="7.8" fill="#222" stroke="#222" stroke-width="0.12" textLength="16.2" lengthAdjust="spacingAndGlyphs"><tspan font-style="italic">γ</tspan><tspan font-size="5" dy="1.6" font-style="italic">q</tspan><tspan dy="-1.6">, </tspan><tspan font-style="italic">σ</tspan></text>
<text x="39.70" y="52.90" font-size="8.9" fill="#222" stroke="#222" stroke-width="0.12" textLength="67.6" lengthAdjust="spacingAndGlyphs"><tspan font-style="italic">J</tspan><tspan font-size="5.6" dy="1.8">1</tspan><tspan dy="-1.8"> = 66.5 ± 5.4 meV</tspan></text>
<text x="39.70" y="64.40" font-size="8.9" fill="#222" stroke="#222" stroke-width="0.12" textLength="65.8" lengthAdjust="spacingAndGlyphs"><tspan font-style="italic">J</tspan><tspan font-size="5.6" dy="1.8">2</tspan><tspan dy="-1.8"> = -7.5 ± 3.9 meV</tspan></text>
<text x="138.50" y="51.90" font-size="8.9" fill="#222" stroke="#222" stroke-width="0.12" textLength="55.5" lengthAdjust="spacingAndGlyphs"><tspan font-style="italic">J</tspan><tspan font-size="5.6" dy="1.8">1</tspan><tspan dy="-1.8"> = 64 ± 7 meV</tspan></text>
<text x="138.50" y="63.40" font-size="8.9" fill="#222" stroke="#222" stroke-width="0.12" textLength="63.5" lengthAdjust="spacingAndGlyphs"><tspan font-style="italic">J</tspan><tspan font-size="5.6" dy="1.8">2</tspan><tspan dy="-1.8"> = -5.5 ± 5.1meV</tspan></text>
<path d="M297.20 144.38 L298.00 141.93 L298.81 139.52 L299.61 137.15 L300.41 134.83 L301.21 132.54 L302.02 130.30 L302.82 128.10 L303.62 125.95 L304.42 123.85 L305.23 121.79 L306.03 119.78 L306.83 117.82 L307.63 115.91 L308.44 114.05 L309.24 112.24 L310.04 110.49 L310.84 108.78 L311.65 107.14 L312.45 105.54 L313.25 104.01 L314.05 102.53 L314.86 101.10 L315.66 99.74 L316.46 98.43 L317.26 97.18 L318.07 95.99 L318.87 94.86 L319.67 93.79 L320.47 92.78 L321.28 91.84 L322.08 90.95 L322.88 90.13 L323.68 89.37 L324.49 88.68 L325.29 88.04 L326.09 87.47 L326.89 86.97 L327.70 86.53 L328.50 86.15 L329.30 85.84 L330.10 85.59 L330.91 85.41 L331.71 85.30 L332.51 85.24 L333.31 85.26 L334.12 85.33 L334.92 85.48 L335.72 85.69 L336.52 85.96 L337.33 86.30 L338.13 86.70 L338.93 87.16 L339.73 87.70 L340.54 88.29 L341.34 88.95 L342.14 89.67 L342.94 90.45 L343.75 91.30 L344.55 92.21 L345.35 93.18 L346.15 94.21 L346.96 95.31 L347.76 96.46 L348.56 97.67 L349.36 98.95 L350.17 100.28 L350.97 101.67 L351.77 103.11 L352.57 104.62 L353.38 106.18 L354.18 107.79 L354.98 109.46 L355.78 111.18 L356.59 112.96 L357.39 114.79 L358.19 116.67 L358.99 118.60 L359.80 120.58 L360.60 122.61 L361.40 124.69 L362.20 126.81 L363.00 128.98 L363.81 131.20 L364.61 133.45 L365.41 135.76 L366.22 138.10 L367.02 140.49 L367.82 142.91 L368.62 145.38 L369.43 147.88 L370.23 150.42 L371.03 152.99 L371.83 155.60 L372.63 158.24 L373.44 160.92 L374.24 163.62 L375.04 166.36 L375.85 169.12 L376.65 171.92 L377.45 174.74 L378.25 177.58 L379.06 180.45 L379.86 183.34 L380.66 186.25 L381.46 189.18 L382.26 192.13 L383.07 195.10 L383.87 198.09 L384.67 201.09 L385.48 204.10 L386.28 207.13 L387.08 210.17 L387.88 213.22 L388.69 216.28 L389.49 219.35 L390.29 222.42 L391.09 225.50 L391.89 228.58 L392.70 231.66 L393.50 234.75 L394.51 232.01 L395.52 229.27 L396.52 226.53 L397.53 223.79 L398.54 221.06 L399.55 218.34 L400.56 215.61 L401.57 212.90 L402.57 210.20 L403.58 207.50 L404.59 204.81 L405.60 202.14 L406.61 199.47 L407.62 196.82 L408.62 194.18 L409.63 191.56 L410.64 188.95 L411.65 186.36 L412.66 183.79 L413.67 181.23 L414.68 178.70 L415.68 176.18 L416.69 173.68 L417.70 171.21 L418.71 168.76 L419.72 166.33 L420.73 163.92 L421.73 161.54 L422.74 159.19 L423.75 156.86 L424.76 154.55 L425.77 152.28 L426.77 150.03 L427.78 147.81 L428.79 145.62 L429.80 143.46 L430.81 141.33 L431.82 139.23 L432.82 137.16 L433.83 135.12 L434.84 133.12 L435.85 131.14 L436.86 129.20 L437.87 127.29 L438.88 125.42 L439.88 123.58 L440.89 121.78 L441.90 120.00 L442.91 118.27 L443.92 116.56 L444.93 114.90 L445.93 113.26 L446.94 111.67 L447.95 110.10 L448.96 108.58 L449.97 107.08 L450.98 105.63 L451.98 104.21 L452.99 102.82 L454.00 101.47 L455.01 100.15 L456.02 98.87 L457.02 97.62 L458.03 96.41 L459.04 95.23 L460.05 94.08 L461.06 92.97 L462.07 91.89 L463.07 90.85 L464.08 89.84 L465.09 88.86 L466.10 87.91 L467.11 86.99 L468.12 86.11 L469.12 85.25 L470.13 84.43 L471.14 83.63 L472.15 82.87 L473.16 82.13 L474.17 81.42 L475.18 80.74 L476.18 80.09 L477.19 79.46 L478.20 78.86 L479.21 78.28 L480.22 77.73 L481.23 77.21 L482.23 76.71 L483.24 76.23 L484.25 75.77 L485.26 75.34 L486.27 74.92 L487.28 74.53 L488.28 74.16 L489.29 73.80 L490.30 73.47 L491.31 73.15 L492.32 72.86 L493.32 72.58 L494.33 72.31 L495.34 72.07 L496.35 71.83 L497.36 71.62 L498.37 71.42 L499.38 71.23 L500.38 71.06 L501.39 70.90 L502.40 70.75 L503.41 70.62 L504.42 70.50 L505.43 70.39 L506.43 70.29 L507.44 70.20 L508.45 70.13 L509.46 70.06 L510.47 70.01 L511.48 69.97 L512.48 69.94 L513.49 69.92 L514.50 69.91" fill="none" stroke="#dcc8f5" stroke-width="2.0"/>
<path d="M297.20 151.85 L298.00 149.61 L298.81 147.40 L299.61 145.23 L300.41 143.10 L301.21 141.00 L302.02 138.95 L302.82 136.94 L303.62 134.97 L304.42 133.04 L305.23 131.15 L306.03 129.31 L306.83 127.52 L307.63 125.77 L308.44 124.06 L309.24 122.41 L310.04 120.80 L310.84 119.24 L311.65 117.73 L312.45 116.28 L313.25 114.87 L314.05 113.51 L314.86 112.21 L315.66 110.96 L316.46 109.76 L317.26 108.62 L318.07 107.53 L318.87 106.50 L319.67 105.52 L320.47 104.60 L321.28 103.73 L322.08 102.93 L322.88 102.17 L323.68 101.48 L324.49 100.84 L325.29 100.26 L326.09 99.74 L326.89 99.28 L327.70 98.88 L328.50 98.53 L329.30 98.25 L330.10 98.02 L330.91 97.86 L331.71 97.75 L332.51 97.70 L333.31 97.71 L334.12 97.79 L334.92 97.92 L335.72 98.11 L336.52 98.36 L337.33 98.67 L338.13 99.03 L338.93 99.46 L339.73 99.94 L340.54 100.49 L341.34 101.09 L342.14 101.75 L342.94 102.47 L343.75 103.24 L344.55 104.08 L345.35 104.96 L346.15 105.91 L346.96 106.91 L347.76 107.96 L348.56 109.07 L349.36 110.24 L350.17 111.46 L350.97 112.73 L351.77 114.05 L352.57 115.43 L353.38 116.86 L354.18 118.34 L354.98 119.86 L355.78 121.44 L356.59 123.07 L357.39 124.74 L358.19 126.46 L358.99 128.23 L359.80 130.05 L360.60 131.90 L361.40 133.81 L362.20 135.75 L363.00 137.74 L363.81 139.77 L364.61 141.84 L365.41 143.95 L366.22 146.10 L367.02 148.28 L367.82 150.51 L368.62 152.76 L369.43 155.06 L370.23 157.39 L371.03 159.75 L371.83 162.14 L372.63 164.56 L373.44 167.01 L374.24 169.49 L375.04 172.00 L375.85 174.54 L376.65 177.10 L377.45 179.68 L378.25 182.29 L379.06 184.92 L379.86 187.57 L380.66 190.25 L381.46 192.94 L382.26 195.64 L383.07 198.37 L383.87 201.11 L384.67 203.86 L385.48 206.63 L386.28 209.41 L387.08 212.20 L387.88 214.99 L388.69 217.80 L389.49 220.61 L390.29 223.43 L391.09 226.26 L391.89 229.09 L392.70 231.92 L393.50 234.75 L394.51 232.23 L395.52 229.72 L396.52 227.21 L397.53 224.70 L398.54 222.19 L399.55 219.69 L400.56 217.19 L401.57 214.70 L402.57 212.22 L403.58 209.74 L404.59 207.28 L405.60 204.83 L406.61 202.38 L407.62 199.95 L408.62 197.53 L409.63 195.13 L410.64 192.74 L411.65 190.36 L412.66 188.00 L413.67 185.66 L414.68 183.34 L415.68 181.03 L416.69 178.74 L417.70 176.48 L418.71 174.23 L419.72 172.01 L420.73 169.81 L421.73 167.63 L422.74 165.47 L423.75 163.34 L424.76 161.24 L425.77 159.16 L426.77 157.10 L427.78 155.08 L428.79 153.08 L429.80 151.10 L430.81 149.16 L431.82 147.24 L432.82 145.36 L433.83 143.50 L434.84 141.67 L435.85 139.87 L436.86 138.11 L437.87 136.37 L438.88 134.67 L439.88 132.99 L440.89 131.35 L441.90 129.74 L442.91 128.17 L443.92 126.62 L444.93 125.11 L445.93 123.63 L446.94 122.18 L447.95 120.77 L448.96 119.39 L449.97 118.04 L450.98 116.72 L451.98 115.44 L452.99 114.19 L454.00 112.97 L455.01 111.79 L456.02 110.63 L457.02 109.51 L458.03 108.42 L459.04 107.37 L460.05 106.34 L461.06 105.35 L462.07 104.38 L463.07 103.45 L464.08 102.55 L465.09 101.67 L466.10 100.83 L467.11 100.02 L468.12 99.23 L469.12 98.47 L470.13 97.74 L471.14 97.04 L472.15 96.37 L473.16 95.72 L474.17 95.10 L475.18 94.50 L476.18 93.93 L477.19 93.38 L478.20 92.85 L479.21 92.35 L480.22 91.88 L481.23 91.42 L482.23 90.98 L483.24 90.57 L484.25 90.18 L485.26 89.80 L486.27 89.45 L487.28 89.11 L488.28 88.79 L489.29 88.49 L490.30 88.21 L491.31 87.94 L492.32 87.69 L493.32 87.45 L494.33 87.23 L495.34 87.03 L496.35 86.83 L497.36 86.65 L498.37 86.48 L499.38 86.33 L500.38 86.18 L501.39 86.05 L502.40 85.93 L503.41 85.82 L504.42 85.72 L505.43 85.63 L506.43 85.55 L507.44 85.48 L508.45 85.42 L509.46 85.37 L510.47 85.33 L511.48 85.29 L512.48 85.27 L513.49 85.25 L514.50 85.24" fill="none" stroke="#c8e9ae" stroke-width="1.9"/>
<g stroke="#b98ef0"><line x1="332.80" y1="155.20" x2="332.80" y2="163.80" stroke-width="1.20" opacity="0.60"/><line x1="331.50" y1="155.20" x2="334.10" y2="155.20" stroke-width="1.1"/><line x1="331.50" y1="163.80" x2="334.10" y2="163.80" stroke-width="1.1"/></g>
<g stroke="#b98ef0"><line x1="339.00" y1="157.10" x2="339.00" y2="166.80" stroke-width="1.20" opacity="0.60"/><line x1="337.70" y1="157.10" x2="340.30" y2="157.10" stroke-width="1.1"/><line x1="337.70" y1="166.80" x2="340.30" y2="166.80" stroke-width="1.1"/></g>
<g stroke="#b98ef0"><line x1="344.80" y1="140.00" x2="344.80" y2="150.30" stroke-width="1.20" opacity="0.60"/><line x1="343.50" y1="140.00" x2="346.10" y2="140.00" stroke-width="1.1"/><line x1="343.50" y1="150.30" x2="346.10" y2="150.30" stroke-width="1.1"/></g>
<g stroke="#b98ef0"><line x1="350.80" y1="144.00" x2="350.80" y2="152.90" stroke-width="1.20" opacity="0.60"/><line x1="349.50" y1="144.00" x2="352.10" y2="144.00" stroke-width="1.1"/><line x1="349.50" y1="152.90" x2="352.10" y2="152.90" stroke-width="1.1"/></g>
<g stroke="#b98ef0"><line x1="363.00" y1="134.00" x2="363.00" y2="146.70" stroke-width="1.20" opacity="0.60"/><line x1="361.70" y1="134.00" x2="364.30" y2="134.00" stroke-width="1.1"/><line x1="361.70" y1="146.70" x2="364.30" y2="146.70" stroke-width="1.1"/></g>
<g stroke="#b98ef0"><line x1="369.60" y1="154.30" x2="369.60" y2="163.00" stroke-width="1.20" opacity="0.60"/><line x1="368.30" y1="154.30" x2="370.90" y2="154.30" stroke-width="1.1"/><line x1="368.30" y1="163.00" x2="370.90" y2="163.00" stroke-width="1.1"/></g>
<g stroke="#b98ef0"><line x1="375.30" y1="124.70" x2="375.30" y2="142.20" stroke-width="1.20" opacity="0.60"/><line x1="374.00" y1="124.70" x2="376.60" y2="124.70" stroke-width="1.1"/><line x1="374.00" y1="142.20" x2="376.60" y2="142.20" stroke-width="1.1"/></g>
<g stroke="#b98ef0"><line x1="380.90" y1="112.40" x2="380.90" y2="133.40" stroke-width="1.20" opacity="0.60"/><line x1="379.60" y1="112.40" x2="382.20" y2="112.40" stroke-width="1.1"/><line x1="379.60" y1="133.40" x2="382.20" y2="133.40" stroke-width="1.1"/></g>
<g stroke="#b98ef0"><line x1="417.60" y1="110.90" x2="417.60" y2="134.00" stroke-width="1.20" opacity="0.60"/><line x1="416.30" y1="110.90" x2="418.90" y2="110.90" stroke-width="1.1"/><line x1="416.30" y1="134.00" x2="418.90" y2="134.00" stroke-width="1.1"/></g>
<g stroke="#b98ef0"><line x1="424.40" y1="153.80" x2="424.40" y2="164.30" stroke-width="1.20" opacity="0.60"/><line x1="423.10" y1="153.80" x2="425.70" y2="153.80" stroke-width="1.1"/><line x1="423.10" y1="164.30" x2="425.70" y2="164.30" stroke-width="1.1"/></g>
<g stroke="#b98ef0"><line x1="432.40" y1="150.20" x2="432.40" y2="159.40" stroke-width="1.20" opacity="0.60"/><line x1="431.10" y1="150.20" x2="433.70" y2="150.20" stroke-width="1.1"/><line x1="431.10" y1="159.40" x2="433.70" y2="159.40" stroke-width="1.1"/></g>
<g stroke="#b98ef0"><line x1="439.50" y1="154.50" x2="439.50" y2="164.20" stroke-width="1.20" opacity="0.60"/><line x1="438.20" y1="154.50" x2="440.80" y2="154.50" stroke-width="1.1"/><line x1="438.20" y1="164.20" x2="440.80" y2="164.20" stroke-width="1.1"/></g>
<g stroke="#b98ef0"><line x1="447.10" y1="144.30" x2="447.10" y2="155.50" stroke-width="1.20" opacity="0.60"/><line x1="445.80" y1="144.30" x2="448.40" y2="144.30" stroke-width="1.1"/><line x1="445.80" y1="155.50" x2="448.40" y2="155.50" stroke-width="1.1"/></g>
<g stroke="#b98ef0"><line x1="454.50" y1="159.40" x2="454.50" y2="168.70" stroke-width="1.20" opacity="0.60"/><line x1="453.20" y1="159.40" x2="455.80" y2="159.40" stroke-width="1.1"/><line x1="453.20" y1="168.70" x2="455.80" y2="168.70" stroke-width="1.1"/></g>
<g stroke="#b98ef0"><line x1="461.30" y1="142.90" x2="461.30" y2="152.60" stroke-width="1.20" opacity="0.60"/><line x1="460.00" y1="142.90" x2="462.60" y2="142.90" stroke-width="1.1"/><line x1="460.00" y1="152.60" x2="462.60" y2="152.60" stroke-width="1.1"/></g>
<g stroke="#b98ef0"><line x1="468.70" y1="143.30" x2="468.70" y2="153.00" stroke-width="1.20" opacity="0.60"/><line x1="467.40" y1="143.30" x2="470.00" y2="143.30" stroke-width="1.1"/><line x1="467.40" y1="153.00" x2="470.00" y2="153.00" stroke-width="1.1"/></g>
<g stroke="#b98ef0"><line x1="476.20" y1="149.70" x2="476.20" y2="158.60" stroke-width="1.20" opacity="0.60"/><line x1="474.90" y1="149.70" x2="477.50" y2="149.70" stroke-width="1.1"/><line x1="474.90" y1="158.60" x2="477.50" y2="158.60" stroke-width="1.1"/></g>
<g stroke="#b98ef0"><line x1="483.50" y1="116.80" x2="483.50" y2="128.40" stroke-width="1.20" opacity="0.60"/><line x1="482.20" y1="116.80" x2="484.80" y2="116.80" stroke-width="1.1"/><line x1="482.20" y1="128.40" x2="484.80" y2="128.40" stroke-width="1.1"/></g>
<g stroke="#b98ef0"><line x1="490.40" y1="151.10" x2="490.40" y2="159.50" stroke-width="1.20" opacity="0.60"/><line x1="489.10" y1="151.10" x2="491.70" y2="151.10" stroke-width="1.1"/><line x1="489.10" y1="159.50" x2="491.70" y2="159.50" stroke-width="1.1"/></g>
<g stroke="#b98ef0"><line x1="498.30" y1="150.30" x2="498.30" y2="158.70" stroke-width="1.20" opacity="0.60"/><line x1="497.00" y1="150.30" x2="499.60" y2="150.30" stroke-width="1.1"/><line x1="497.00" y1="158.70" x2="499.60" y2="158.70" stroke-width="1.1"/></g>
<g stroke="#b98ef0"><line x1="505.30" y1="130.30" x2="505.30" y2="143.30" stroke-width="1.20" opacity="0.60"/><line x1="504.00" y1="130.30" x2="506.60" y2="130.30" stroke-width="1.1"/><line x1="504.00" y1="143.30" x2="506.60" y2="143.30" stroke-width="1.1"/></g>
<g stroke="#6aae34"><line x1="332.80" y1="155.20" x2="332.80" y2="176.10" stroke-width="1.00" opacity="0.60"/><line x1="331.40" y1="155.20" x2="334.20" y2="155.20" stroke-width="1.1"/><line x1="331.40" y1="176.10" x2="334.20" y2="176.10" stroke-width="1.1"/></g>
<g stroke="#6aae34"><line x1="344.80" y1="159.50" x2="344.80" y2="178.00" stroke-width="1.00" opacity="0.60"/><line x1="343.40" y1="159.50" x2="346.20" y2="159.50" stroke-width="1.1"/><line x1="343.40" y1="178.00" x2="346.20" y2="178.00" stroke-width="1.1"/></g>
<g stroke="#6aae34"><line x1="357.00" y1="161.00" x2="357.00" y2="179.40" stroke-width="1.00" opacity="0.60"/><line x1="355.60" y1="161.00" x2="358.40" y2="161.00" stroke-width="1.1"/><line x1="355.60" y1="179.40" x2="358.40" y2="179.40" stroke-width="1.1"/></g>
<g stroke="#6aae34"><line x1="442.00" y1="156.00" x2="442.00" y2="179.60" stroke-width="1.00" opacity="0.60"/><line x1="440.60" y1="156.00" x2="443.40" y2="156.00" stroke-width="1.1"/><line x1="440.60" y1="179.60" x2="443.40" y2="179.60" stroke-width="1.1"/></g>
<g stroke="#6aae34"><line x1="454.40" y1="167.80" x2="454.40" y2="189.60" stroke-width="1.00" opacity="0.60"/><line x1="453.00" y1="167.80" x2="455.80" y2="167.80" stroke-width="1.1"/><line x1="453.00" y1="189.60" x2="455.80" y2="189.60" stroke-width="1.1"/></g>
<g stroke="#6aae34"><line x1="466.40" y1="161.60" x2="466.40" y2="178.40" stroke-width="1.00" opacity="0.60"/><line x1="465.00" y1="161.60" x2="467.80" y2="161.60" stroke-width="1.1"/><line x1="465.00" y1="178.40" x2="467.80" y2="178.40" stroke-width="1.1"/></g>
<g stroke="#6aae34"><line x1="478.60" y1="147.30" x2="478.60" y2="179.50" stroke-width="1.00" opacity="0.60"/><line x1="477.20" y1="147.30" x2="480.00" y2="147.30" stroke-width="1.1"/><line x1="477.20" y1="179.50" x2="480.00" y2="179.50" stroke-width="1.1"/></g>
<g stroke="#6aae34"><line x1="490.60" y1="151.80" x2="490.60" y2="172.10" stroke-width="1.00" opacity="0.60"/><line x1="489.20" y1="151.80" x2="492.00" y2="151.80" stroke-width="1.1"/><line x1="489.20" y1="172.10" x2="492.00" y2="172.10" stroke-width="1.1"/></g>
<g stroke="#6aae34"><line x1="503.00" y1="141.00" x2="503.00" y2="169.30" stroke-width="1.00" opacity="0.60"/><line x1="501.60" y1="141.00" x2="504.40" y2="141.00" stroke-width="1.1"/><line x1="501.60" y1="169.30" x2="504.40" y2="169.30" stroke-width="1.1"/></g>
<g stroke="#6aae34"><line x1="510.50" y1="129.40" x2="510.50" y2="150.30" stroke-width="1.00" opacity="0.60"/><line x1="509.10" y1="129.40" x2="511.90" y2="129.40" stroke-width="1.1"/><line x1="509.10" y1="150.30" x2="511.90" y2="150.30" stroke-width="1.1"/></g>
<path d="M332.80 157.20 L334.10 159.50 L332.80 161.80 L331.50 159.50Z" fill="#fff" stroke="#b98ef0" stroke-width="0.90"/>
<path d="M339.00 159.70 L340.30 162.00 L339.00 164.30 L337.70 162.00Z" fill="#fff" stroke="#b98ef0" stroke-width="0.90"/>
<path d="M344.80 142.80 L346.10 145.10 L344.80 147.40 L343.50 145.10Z" fill="#fff" stroke="#b98ef0" stroke-width="0.90"/>
<path d="M350.80 146.10 L352.10 148.40 L350.80 150.70 L349.50 148.40Z" fill="#fff" stroke="#b98ef0" stroke-width="0.90"/>
<path d="M363.00 138.30 L364.30 140.60 L363.00 142.90 L361.70 140.60Z" fill="#fff" stroke="#b98ef0" stroke-width="0.90"/>
<path d="M369.60 156.20 L370.90 158.50 L369.60 160.80 L368.30 158.50Z" fill="#fff" stroke="#b98ef0" stroke-width="0.90"/>
<path d="M375.30 131.10 L376.60 133.40 L375.30 135.70 L374.00 133.40Z" fill="#fff" stroke="#b98ef0" stroke-width="0.90"/>
<path d="M380.90 120.80 L382.20 123.10 L380.90 125.40 L379.60 123.10Z" fill="#fff" stroke="#b98ef0" stroke-width="0.90"/>
<path d="M417.60 120.20 L418.90 122.50 L417.60 124.80 L416.30 122.50Z" fill="#fff" stroke="#b98ef0" stroke-width="0.90"/>
<path d="M424.40 156.00 L425.70 158.30 L424.40 160.60 L423.10 158.30Z" fill="#fff" stroke="#b98ef0" stroke-width="0.90"/>
<path d="M432.40 152.30 L433.70 154.60 L432.40 156.90 L431.10 154.60Z" fill="#fff" stroke="#b98ef0" stroke-width="0.90"/>
<path d="M439.50 157.20 L440.80 159.50 L439.50 161.80 L438.20 159.50Z" fill="#fff" stroke="#b98ef0" stroke-width="0.90"/>
<path d="M447.10 147.80 L448.40 150.10 L447.10 152.40 L445.80 150.10Z" fill="#fff" stroke="#b98ef0" stroke-width="0.90"/>
<path d="M454.50 161.30 L455.80 163.60 L454.50 165.90 L453.20 163.60Z" fill="#fff" stroke="#b98ef0" stroke-width="0.90"/>
<path d="M461.30 145.50 L462.60 147.80 L461.30 150.10 L460.00 147.80Z" fill="#fff" stroke="#b98ef0" stroke-width="0.90"/>
<path d="M468.70 145.90 L470.00 148.20 L468.70 150.50 L467.40 148.20Z" fill="#fff" stroke="#b98ef0" stroke-width="0.90"/>
<path d="M476.20 151.30 L477.50 153.60 L476.20 155.90 L474.90 153.60Z" fill="#fff" stroke="#b98ef0" stroke-width="0.90"/>
<path d="M483.50 119.70 L484.80 122.00 L483.50 124.30 L482.20 122.00Z" fill="#fff" stroke="#b98ef0" stroke-width="0.90"/>
<path d="M490.40 153.00 L491.70 155.30 L490.40 157.60 L489.10 155.30Z" fill="#fff" stroke="#b98ef0" stroke-width="0.90"/>
<path d="M498.30 152.20 L499.60 154.50 L498.30 156.80 L497.00 154.50Z" fill="#fff" stroke="#b98ef0" stroke-width="0.90"/>
<path d="M505.30 134.40 L506.60 136.70 L505.30 139.00 L504.00 136.70Z" fill="#fff" stroke="#b98ef0" stroke-width="0.90"/>
<path d="M332.80 162.80 L334.70 165.90 L332.80 169.00 L330.90 165.90Z" fill="#fff" stroke="#4f9a1c" stroke-width="1.60"/>
<path d="M344.80 166.60 L346.70 169.70 L344.80 172.80 L342.90 169.70Z" fill="#fff" stroke="#4f9a1c" stroke-width="1.60"/>
<path d="M357.00 168.10 L358.90 171.20 L357.00 174.30 L355.10 171.20Z" fill="#fff" stroke="#4f9a1c" stroke-width="1.60"/>
<path d="M442.00 164.60 L443.90 167.70 L442.00 170.80 L440.10 167.70Z" fill="#fff" stroke="#4f9a1c" stroke-width="1.60"/>
<path d="M454.40 176.40 L456.30 179.50 L454.40 182.60 L452.50 179.50Z" fill="#fff" stroke="#4f9a1c" stroke-width="1.60"/>
<path d="M466.40 166.90 L468.30 170.00 L466.40 173.10 L464.50 170.00Z" fill="#fff" stroke="#4f9a1c" stroke-width="1.60"/>
<path d="M478.60 160.70 L480.50 163.80 L478.60 166.90 L476.70 163.80Z" fill="#fff" stroke="#4f9a1c" stroke-width="1.60"/>
<path d="M490.60 159.30 L492.50 162.40 L490.60 165.50 L488.70 162.40Z" fill="#fff" stroke="#4f9a1c" stroke-width="1.60"/>
<path d="M503.00 152.20 L504.90 155.30 L503.00 158.40 L501.10 155.30Z" fill="#fff" stroke="#4f9a1c" stroke-width="1.60"/>
<path d="M510.50 136.90 L512.40 140.00 L510.50 143.10 L508.60 140.00Z" fill="#fff" stroke="#4f9a1c" stroke-width="1.60"/>
<g stroke="#a068e6"><line x1="332.80" y1="100.80" x2="332.80" y2="106.00" stroke-width="0.80" opacity="0.75"/><line x1="331.60" y1="100.80" x2="334.00" y2="100.80" stroke-width="1.1"/><line x1="331.60" y1="106.00" x2="334.00" y2="106.00" stroke-width="1.1"/></g>
<g stroke="#a068e6"><line x1="338.80" y1="98.70" x2="338.80" y2="103.90" stroke-width="0.80" opacity="0.75"/><line x1="337.60" y1="98.70" x2="340.00" y2="98.70" stroke-width="1.1"/><line x1="337.60" y1="103.90" x2="340.00" y2="103.90" stroke-width="1.1"/></g>
<g stroke="#a068e6"><line x1="344.90" y1="90.20" x2="344.90" y2="95.40" stroke-width="0.80" opacity="0.75"/><line x1="343.70" y1="90.20" x2="346.10" y2="90.20" stroke-width="1.1"/><line x1="343.70" y1="95.40" x2="346.10" y2="95.40" stroke-width="1.1"/></g>
<g stroke="#a068e6"><line x1="351.10" y1="102.60" x2="351.10" y2="107.80" stroke-width="0.80" opacity="0.75"/><line x1="349.90" y1="102.60" x2="352.30" y2="102.60" stroke-width="1.1"/><line x1="349.90" y1="107.80" x2="352.30" y2="107.80" stroke-width="1.1"/></g>
<g stroke="#a068e6"><line x1="357.00" y1="107.50" x2="357.00" y2="112.70" stroke-width="0.80" opacity="0.75"/><line x1="355.80" y1="107.50" x2="358.20" y2="107.50" stroke-width="1.1"/><line x1="355.80" y1="112.70" x2="358.20" y2="112.70" stroke-width="1.1"/></g>
<g stroke="#a068e6"><line x1="363.40" y1="114.70" x2="363.40" y2="119.90" stroke-width="0.80" opacity="0.75"/><line x1="362.20" y1="114.70" x2="364.60" y2="114.70" stroke-width="1.1"/><line x1="362.20" y1="119.90" x2="364.60" y2="119.90" stroke-width="1.1"/></g>
<g stroke="#a068e6"><line x1="369.20" y1="125.00" x2="369.20" y2="130.20" stroke-width="0.80" opacity="0.75"/><line x1="368.00" y1="125.00" x2="370.40" y2="125.00" stroke-width="1.1"/><line x1="368.00" y1="130.20" x2="370.40" y2="130.20" stroke-width="1.1"/></g>
<g stroke="#a068e6"><line x1="375.40" y1="129.20" x2="375.40" y2="134.40" stroke-width="0.80" opacity="0.75"/><line x1="374.20" y1="129.20" x2="376.60" y2="129.20" stroke-width="1.1"/><line x1="374.20" y1="134.40" x2="376.60" y2="134.40" stroke-width="1.1"/></g>
<g stroke="#a068e6"><line x1="380.60" y1="155.40" x2="380.60" y2="160.60" stroke-width="0.80" opacity="0.75"/><line x1="379.40" y1="155.40" x2="381.80" y2="155.40" stroke-width="1.1"/><line x1="379.40" y1="160.60" x2="381.80" y2="160.60" stroke-width="1.1"/></g>
<g stroke="#a068e6"><line x1="417.60" y1="129.00" x2="417.60" y2="134.20" stroke-width="0.80" opacity="0.75"/><line x1="416.40" y1="129.00" x2="418.80" y2="129.00" stroke-width="1.1"/><line x1="416.40" y1="134.20" x2="418.80" y2="134.20" stroke-width="1.1"/></g>
<g stroke="#a068e6"><line x1="424.80" y1="130.50" x2="424.80" y2="135.70" stroke-width="0.80" opacity="0.75"/><line x1="423.60" y1="130.50" x2="426.00" y2="130.50" stroke-width="1.1"/><line x1="423.60" y1="135.70" x2="426.00" y2="135.70" stroke-width="1.1"/></g>
<g stroke="#a068e6"><line x1="432.00" y1="122.30" x2="432.00" y2="127.50" stroke-width="0.80" opacity="0.75"/><line x1="430.80" y1="122.30" x2="433.20" y2="122.30" stroke-width="1.1"/><line x1="430.80" y1="127.50" x2="433.20" y2="127.50" stroke-width="1.1"/></g>
<g stroke="#a068e6"><line x1="439.60" y1="116.90" x2="439.60" y2="122.10" stroke-width="0.80" opacity="0.75"/><line x1="438.40" y1="116.90" x2="440.80" y2="116.90" stroke-width="1.1"/><line x1="438.40" y1="122.10" x2="440.80" y2="122.10" stroke-width="1.1"/></g>
<g stroke="#a068e6"><line x1="446.90" y1="101.00" x2="446.90" y2="106.20" stroke-width="0.80" opacity="0.75"/><line x1="445.70" y1="101.00" x2="448.10" y2="101.00" stroke-width="1.1"/><line x1="445.70" y1="106.20" x2="448.10" y2="106.20" stroke-width="1.1"/></g>
<g stroke="#a068e6"><line x1="454.00" y1="99.90" x2="454.00" y2="105.10" stroke-width="0.80" opacity="0.75"/><line x1="452.80" y1="99.90" x2="455.20" y2="99.90" stroke-width="1.1"/><line x1="452.80" y1="105.10" x2="455.20" y2="105.10" stroke-width="1.1"/></g>
<g stroke="#a068e6"><line x1="461.70" y1="86.90" x2="461.70" y2="92.10" stroke-width="0.80" opacity="0.75"/><line x1="460.50" y1="86.90" x2="462.90" y2="86.90" stroke-width="1.1"/><line x1="460.50" y1="92.10" x2="462.90" y2="92.10" stroke-width="1.1"/></g>
<g stroke="#a068e6"><line x1="468.90" y1="84.50" x2="468.90" y2="89.70" stroke-width="0.80" opacity="0.75"/><line x1="467.70" y1="84.50" x2="470.10" y2="84.50" stroke-width="1.1"/><line x1="467.70" y1="89.70" x2="470.10" y2="89.70" stroke-width="1.1"/></g>
<g stroke="#a068e6"><line x1="476.20" y1="77.60" x2="476.20" y2="82.80" stroke-width="0.80" opacity="0.75"/><line x1="475.00" y1="77.60" x2="477.40" y2="77.60" stroke-width="1.1"/><line x1="475.00" y1="82.80" x2="477.40" y2="82.80" stroke-width="1.1"/></g>
<g stroke="#a068e6"><line x1="483.30" y1="64.60" x2="483.30" y2="69.80" stroke-width="0.80" opacity="0.75"/><line x1="482.10" y1="64.60" x2="484.50" y2="64.60" stroke-width="1.1"/><line x1="482.10" y1="69.80" x2="484.50" y2="69.80" stroke-width="1.1"/></g>
<g stroke="#a068e6"><line x1="490.30" y1="69.50" x2="490.30" y2="74.70" stroke-width="0.80" opacity="0.75"/><line x1="489.10" y1="69.50" x2="491.50" y2="69.50" stroke-width="1.1"/><line x1="489.10" y1="74.70" x2="491.50" y2="74.70" stroke-width="1.1"/></g>
<g stroke="#a068e6"><line x1="498.10" y1="68.30" x2="498.10" y2="73.50" stroke-width="0.80" opacity="0.75"/><line x1="496.90" y1="68.30" x2="499.30" y2="68.30" stroke-width="1.1"/><line x1="496.90" y1="73.50" x2="499.30" y2="73.50" stroke-width="1.1"/></g>
<g stroke="#a068e6"><line x1="505.30" y1="59.80" x2="505.30" y2="65.00" stroke-width="0.80" opacity="0.75"/><line x1="504.10" y1="59.80" x2="506.50" y2="59.80" stroke-width="1.1"/><line x1="504.10" y1="65.00" x2="506.50" y2="65.00" stroke-width="1.1"/></g>
<g stroke="#4f9a1c"><line x1="332.90" y1="107.80" x2="332.90" y2="116.80" stroke-width="0.90" opacity="0.75"/><line x1="331.60" y1="107.80" x2="334.20" y2="107.80" stroke-width="1.1"/><line x1="331.60" y1="116.80" x2="334.20" y2="116.80" stroke-width="1.1"/></g>
<g stroke="#4f9a1c"><line x1="344.90" y1="108.00" x2="344.90" y2="117.00" stroke-width="0.90" opacity="0.75"/><line x1="343.60" y1="108.00" x2="346.20" y2="108.00" stroke-width="1.1"/><line x1="343.60" y1="117.00" x2="346.20" y2="117.00" stroke-width="1.1"/></g>
<g stroke="#4f9a1c"><line x1="357.00" y1="113.70" x2="357.00" y2="122.70" stroke-width="0.90" opacity="0.75"/><line x1="355.70" y1="113.70" x2="358.30" y2="113.70" stroke-width="1.1"/><line x1="355.70" y1="122.70" x2="358.30" y2="122.70" stroke-width="1.1"/></g>
<g stroke="#4f9a1c"><line x1="441.70" y1="124.40" x2="441.70" y2="137.40" stroke-width="0.90" opacity="0.75"/><line x1="440.40" y1="124.40" x2="443.00" y2="124.40" stroke-width="1.1"/><line x1="440.40" y1="137.40" x2="443.00" y2="137.40" stroke-width="1.1"/></g>
<g stroke="#4f9a1c"><line x1="454.00" y1="103.00" x2="454.00" y2="112.00" stroke-width="0.90" opacity="0.75"/><line x1="452.70" y1="103.00" x2="455.30" y2="103.00" stroke-width="1.1"/><line x1="452.70" y1="112.00" x2="455.30" y2="112.00" stroke-width="1.1"/></g>
<g stroke="#4f9a1c"><line x1="466.30" y1="99.10" x2="466.30" y2="108.10" stroke-width="0.90" opacity="0.75"/><line x1="465.00" y1="99.10" x2="467.60" y2="99.10" stroke-width="1.1"/><line x1="465.00" y1="108.10" x2="467.60" y2="108.10" stroke-width="1.1"/></g>
<g stroke="#4f9a1c"><line x1="478.30" y1="87.40" x2="478.30" y2="99.40" stroke-width="0.90" opacity="0.75"/><line x1="477.00" y1="87.40" x2="479.60" y2="87.40" stroke-width="1.1"/><line x1="477.00" y1="99.40" x2="479.60" y2="99.40" stroke-width="1.1"/></g>
<g stroke="#4f9a1c"><line x1="490.30" y1="84.40" x2="490.30" y2="93.40" stroke-width="0.90" opacity="0.75"/><line x1="489.00" y1="84.40" x2="491.60" y2="84.40" stroke-width="1.1"/><line x1="489.00" y1="93.40" x2="491.60" y2="93.40" stroke-width="1.1"/></g>
<g stroke="#4f9a1c"><line x1="502.90" y1="82.50" x2="502.90" y2="91.50" stroke-width="0.90" opacity="0.75"/><line x1="501.60" y1="82.50" x2="504.20" y2="82.50" stroke-width="1.1"/><line x1="501.60" y1="91.50" x2="504.20" y2="91.50" stroke-width="1.1"/></g>
<g stroke="#4f9a1c"><line x1="510.10" y1="77.20" x2="510.10" y2="86.20" stroke-width="0.90" opacity="0.75"/><line x1="508.80" y1="77.20" x2="511.40" y2="77.20" stroke-width="1.1"/><line x1="508.80" y1="86.20" x2="511.40" y2="86.20" stroke-width="1.1"/></g>
<path d="M332.80 100.60 L334.80 103.40 L332.80 106.20 L330.80 103.40Z" fill="#a068e6"/>
<path d="M338.80 98.50 L340.80 101.30 L338.80 104.10 L336.80 101.30Z" fill="#a068e6"/>
<path d="M344.90 90.00 L346.90 92.80 L344.90 95.60 L342.90 92.80Z" fill="#a068e6"/>
<path d="M351.10 102.40 L353.10 105.20 L351.10 108.00 L349.10 105.20Z" fill="#a068e6"/>
<path d="M357.00 107.30 L359.00 110.10 L357.00 112.90 L355.00 110.10Z" fill="#a068e6"/>
<path d="M363.40 114.50 L365.40 117.30 L363.40 120.10 L361.40 117.30Z" fill="#a068e6"/>
<path d="M369.20 124.80 L371.20 127.60 L369.20 130.40 L367.20 127.60Z" fill="#a068e6"/>
<path d="M375.40 129.00 L377.40 131.80 L375.40 134.60 L373.40 131.80Z" fill="#a068e6"/>
<path d="M380.60 155.20 L382.60 158.00 L380.60 160.80 L378.60 158.00Z" fill="#a068e6"/>
<path d="M417.60 128.80 L419.60 131.60 L417.60 134.40 L415.60 131.60Z" fill="#a068e6"/>
<path d="M424.80 130.30 L426.80 133.10 L424.80 135.90 L422.80 133.10Z" fill="#a068e6"/>
<path d="M432.00 122.10 L434.00 124.90 L432.00 127.70 L430.00 124.90Z" fill="#a068e6"/>
<path d="M439.60 116.70 L441.60 119.50 L439.60 122.30 L437.60 119.50Z" fill="#a068e6"/>
<path d="M446.90 100.80 L448.90 103.60 L446.90 106.40 L444.90 103.60Z" fill="#a068e6"/>
<path d="M454.00 99.70 L456.00 102.50 L454.00 105.30 L452.00 102.50Z" fill="#a068e6"/>
<path d="M461.70 86.70 L463.70 89.50 L461.70 92.30 L459.70 89.50Z" fill="#a068e6"/>
<path d="M468.90 84.30 L470.90 87.10 L468.90 89.90 L466.90 87.10Z" fill="#a068e6"/>
<path d="M476.20 77.40 L478.20 80.20 L476.20 83.00 L474.20 80.20Z" fill="#a068e6"/>
<path d="M483.30 64.40 L485.30 67.20 L483.30 70.00 L481.30 67.20Z" fill="#a068e6"/>
<path d="M490.30 69.30 L492.30 72.10 L490.30 74.90 L488.30 72.10Z" fill="#a068e6"/>
<path d="M498.10 68.10 L500.10 70.90 L498.10 73.70 L496.10 70.90Z" fill="#a068e6"/>
<path d="M505.30 59.60 L507.30 62.40 L505.30 65.20 L503.30 62.40Z" fill="#a068e6"/>
<path d="M332.90 108.40 L335.40 112.30 L332.90 116.20 L330.40 112.30Z" fill="#4f9a1c"/>
<path d="M344.90 108.60 L347.40 112.50 L344.90 116.40 L342.40 112.50Z" fill="#4f9a1c"/>
<path d="M357.00 114.30 L359.50 118.20 L357.00 122.10 L354.50 118.20Z" fill="#4f9a1c"/>
<path d="M441.70 127.00 L444.20 130.90 L441.70 134.80 L439.20 130.90Z" fill="#4f9a1c"/>
<path d="M454.00 103.60 L456.50 107.50 L454.00 111.40 L451.50 107.50Z" fill="#4f9a1c"/>
<path d="M466.30 99.70 L468.80 103.60 L466.30 107.50 L463.80 103.60Z" fill="#4f9a1c"/>
<path d="M478.30 89.50 L480.80 93.40 L478.30 97.30 L475.80 93.40Z" fill="#4f9a1c"/>
<path d="M490.30 85.00 L492.80 88.90 L490.30 92.80 L487.80 88.90Z" fill="#4f9a1c"/>
<path d="M502.90 83.10 L505.40 87.00 L502.90 90.90 L500.40 87.00Z" fill="#4f9a1c"/>
<path d="M510.10 77.80 L512.60 81.70 L510.10 85.60 L507.60 81.70Z" fill="#4f9a1c"/>
<rect x="296.60" y="6.80" width="218.50" height="227.95" fill="none" stroke="#333" stroke-width="1.1"/>
<line x1="393.50" y1="8.00" x2="393.50" y2="234.75" stroke="#7a7a7a" stroke-width="0.9" stroke-dasharray="2.8 2.2"/>
<text x="295.30" y="238.45" font-size="8.50" text-anchor="end" font-weight="normal" font-style="normal" fill="#333" stroke="#333" stroke-width="0.12" >0</text>
<line x1="296.60" y1="194.14" x2="300.20" y2="194.14" stroke="#333" stroke-width="1"/>
<text x="295.10" y="197.24" font-size="8.50" text-anchor="end" font-weight="normal" font-style="normal" fill="#333" stroke="#333" stroke-width="0.12" >50</text>
<line x1="296.60" y1="153.53" x2="300.20" y2="153.53" stroke="#333" stroke-width="1"/>
<text x="295.10" y="156.63" font-size="8.50" text-anchor="end" font-weight="normal" font-style="normal" fill="#333" stroke="#333" stroke-width="0.12" >100</text>
<line x1="296.60" y1="112.92" x2="300.20" y2="112.92" stroke="#333" stroke-width="1"/>
<text x="295.10" y="116.02" font-size="8.50" text-anchor="end" font-weight="normal" font-style="normal" fill="#333" stroke="#333" stroke-width="0.12" >150</text>
<line x1="296.60" y1="72.31" x2="300.20" y2="72.31" stroke="#333" stroke-width="1"/>
<text x="295.10" y="75.41" font-size="8.50" text-anchor="end" font-weight="normal" font-style="normal" fill="#333" stroke="#333" stroke-width="0.12" >200</text>
<line x1="296.60" y1="31.70" x2="300.20" y2="31.70" stroke="#333" stroke-width="1"/>
<text x="295.10" y="34.80" font-size="8.50" text-anchor="end" font-weight="normal" font-style="normal" fill="#333" stroke="#333" stroke-width="0.12" >250</text>
<text x="298.70" y="244.70" font-size="8.50" text-anchor="middle" font-weight="normal" font-style="normal" fill="#333" stroke="#333" stroke-width="0.12" >0.4</text>
<line x1="344.90" y1="234.75" x2="344.90" y2="231.45" stroke="#333" stroke-width="1"/>
<text x="344.90" y="243.90" font-size="8.50" text-anchor="middle" font-weight="normal" font-style="normal" fill="#333" stroke="#333" stroke-width="0.12" >0.2</text>
<text x="393.50" y="243.90" font-size="8.50" text-anchor="middle" font-weight="normal" font-style="normal" fill="#333" stroke="#333" stroke-width="0.12" >0</text>
<line x1="442.10" y1="234.75" x2="442.10" y2="231.45" stroke="#333" stroke-width="1"/>
<text x="442.10" y="243.90" font-size="8.50" text-anchor="middle" font-weight="normal" font-style="normal" fill="#333" stroke="#333" stroke-width="0.12" >0.2</text>
<line x1="490.70" y1="234.75" x2="490.70" y2="231.45" stroke="#333" stroke-width="1"/>
<text x="490.70" y="243.90" font-size="8.50" text-anchor="middle" font-weight="normal" font-style="normal" fill="#333" stroke="#333" stroke-width="0.12" >0.4</text>
<text x="281.60" y="14.00" font-size="13.50" text-anchor="start" font-weight="bold" font-style="normal" fill="#111" stroke="#111" stroke-width="0.12" >b</text>
<text transform="translate(277.00,120.5) rotate(-90)" x="0" y="0" font-size="9.0" text-anchor="middle" fill="#222" stroke="#222" stroke-width="0.12" textLength="59.2" lengthAdjust="spacingAndGlyphs" font-family='Liberation Sans'>Energy (meV)</text>
<text x="323.80" y="254.3" font-size="7.8" fill="#2a2a2a" stroke="none" textLength="52.6" lengthAdjust="spacingAndGlyphs"><tspan font-style="italic">q</tspan><tspan font-size="4.6" dy="1.5" font-style="italic">//</tspan><tspan dy="-1.5">=(</tspan><tspan font-style="italic">h</tspan>, <tspan font-style="italic">h</tspan>) (<tspan font-style="italic">r.l.u.</tspan>)</text>
<text x="420.70" y="254.3" font-size="7.8" fill="#2a2a2a" stroke="none" textLength="52.7" lengthAdjust="spacingAndGlyphs"><tspan font-style="italic">q</tspan><tspan font-size="4.6" dy="1.5" font-style="italic">//</tspan><tspan dy="-1.5">=(</tspan><tspan font-style="italic">h</tspan>, 0) (<tspan font-style="italic">r.l.u.</tspan>)</text>
<text x="305.00" y="16.30" font-size="8.8" fill="#222" stroke="#222" stroke-width="0.12" textLength="40.7" lengthAdjust="spacingAndGlyphs">PrNiO<tspan font-size="5.4" dy="1.8">2</tspan><tspan dy="-1.8">/STO</tspan></text>
<text x="403.00" y="16.20" font-size="8.8" fill="#222" stroke="#222" stroke-width="0.12" textLength="44.1" lengthAdjust="spacingAndGlyphs">PrNiO<tspan font-size="5.4" dy="1.8">2</tspan><tspan dy="-1.8">/LSAT</tspan></text>
<path d="M314.00 20.60 L316.50 25.10 L314.00 29.60 L311.50 25.10Z" fill="#a068e6"/>
<path d="M314.00 33.20 L315.80 36.70 L314.00 40.20 L312.20 36.70Z" fill="#fff" stroke="#b98ef0" stroke-width="1.10"/>
<path d="M411.90 20.50 L414.40 25.00 L411.90 29.50 L409.40 25.00Z" fill="#4f9a1c"/>
<path d="M411.90 33.00 L413.90 36.60 L411.90 40.20 L409.90 36.60Z" fill="#fff" stroke="#4f9a1c" stroke-width="1.30"/>
<text x="325.00" y="28.40" font-size="7.8" fill="#222" stroke="#222" stroke-width="0.12" textLength="58.8" lengthAdjust="spacingAndGlyphs"><tspan font-style="italic">ε</tspan><tspan font-size="5" dy="1.6" font-style="italic">q</tspan><tspan dy="-1.6">, </tspan><tspan font-style="italic">π</tspan><tspan font-size="6.3" font-style="normal"> (P. Worm et al.)</tspan></text>
<text x="325.00" y="39.40" font-size="7.8" fill="#222" stroke="#222" stroke-width="0.12" textLength="58.8" lengthAdjust="spacingAndGlyphs"><tspan font-style="italic">γ</tspan><tspan font-size="5" dy="1.6" font-style="italic">q</tspan><tspan dy="-1.6">, </tspan><tspan font-style="italic">π</tspan><tspan font-size="6.3" font-style="normal"> (P. Worm et al.)</tspan></text>
<text x="424.40" y="28.30" font-size="7.8" fill="#222" stroke="#222" stroke-width="0.12" textLength="14.0" lengthAdjust="spacingAndGlyphs"><tspan font-style="italic">ε</tspan><tspan font-size="5" dy="1.6" font-style="italic">q</tspan><tspan dy="-1.6">, </tspan><tspan font-style="italic">π</tspan></text>
<text x="424.40" y="39.30" font-size="7.8" fill="#222" stroke="#222" stroke-width="0.12" textLength="14.0" lengthAdjust="spacingAndGlyphs"><tspan font-style="italic">γ</tspan><tspan font-size="5" dy="1.6" font-style="italic">q</tspan><tspan dy="-1.6">, </tspan><tspan font-style="italic">π</tspan></text>
<text x="304.70" y="51.80" font-size="8.9" fill="#222" stroke="#222" stroke-width="0.12" textLength="68.0" lengthAdjust="spacingAndGlyphs"><tspan font-style="italic">J</tspan><tspan font-size="5.6" dy="1.8">1</tspan><tspan dy="-1.8"> = 70.0 ± 5.5 meV</tspan></text>
<text x="304.70" y="62.90" font-size="8.9" fill="#222" stroke="#222" stroke-width="0.12" textLength="66.0" lengthAdjust="spacingAndGlyphs"><tspan font-style="italic">J</tspan><tspan font-size="5.6" dy="1.8">2</tspan><tspan dy="-1.8"> = -8.0 ± 3.8 meV</tspan></text>
<text x="403.00" y="51.70" font-size="8.9" fill="#222" stroke="#222" stroke-width="0.12" textLength="67.3" lengthAdjust="spacingAndGlyphs"><tspan font-style="italic">J</tspan><tspan font-size="5.6" dy="1.8">1</tspan><tspan dy="-1.8"> = 65.0 ± 7.0 meV</tspan></text>
<text x="403.00" y="62.60" font-size="8.9" fill="#222" stroke="#222" stroke-width="0.12" textLength="66.8" lengthAdjust="spacingAndGlyphs"><tspan font-style="italic">J</tspan><tspan font-size="5.6" dy="1.8">2</tspan><tspan dy="-1.8"> = -6.5 ± 7.5 meV</tspan></text>
<text x="535.6" y="12.3" font-size="13.5" font-weight="bold" fill="#111" stroke="#111" stroke-width="0.12">c</text>
<path d="M575.50 13.55 L588.02 33.50 L568.10 46.25 L555.57 26.30Z" fill="#edfbfb" stroke="#d3eaea" stroke-width="0.5"/>
<path d="M568.10 46.25 L588.02 59.00 L575.50 78.95 L555.57 66.20Z" fill="#edfbfb" stroke="#d3eaea" stroke-width="0.5"/>
<path d="M575.50 78.95 L588.02 98.90 L568.10 111.65 L555.57 91.70Z" fill="#edfbfb" stroke="#d3eaea" stroke-width="0.5"/>
<path d="M600.55 13.55 L620.47 26.30 L607.95 46.25 L588.02 33.50Z" fill="#edfbfb" stroke="#d3eaea" stroke-width="0.5"/>
<path d="M607.95 46.25 L620.47 66.20 L600.55 78.95 L588.02 59.00Z" fill="#edfbfb" stroke="#d3eaea" stroke-width="0.5"/>
<path d="M600.55 78.95 L620.47 91.70 L607.95 111.65 L588.02 98.90Z" fill="#edfbfb" stroke="#d3eaea" stroke-width="0.5"/>
<path d="M640.40 13.55 L652.92 33.50 L633.00 46.25 L620.47 26.30Z" fill="#edfbfb" stroke="#d3eaea" stroke-width="0.5"/>
<path d="M633.00 46.25 L652.92 59.00 L640.40 78.95 L620.47 66.20Z" fill="#edfbfb" stroke="#d3eaea" stroke-width="0.5"/>
<path d="M640.40 78.95 L652.92 98.90 L633.00 111.65 L620.47 91.70Z" fill="#edfbfb" stroke="#d3eaea" stroke-width="0.5"/>
<line x1="571.80" y1="29.90" x2="573.65" y2="21.72" stroke="#aecab7" stroke-width="1.5"/>
<line x1="573.65" y1="21.72" x2="575.50" y2="13.55" stroke="#c2aeea" stroke-width="1.4"/>
<line x1="571.80" y1="29.90" x2="579.91" y2="31.70" stroke="#aecab7" stroke-width="1.5"/>
<line x1="579.91" y1="31.70" x2="588.02" y2="33.50" stroke="#c2aeea" stroke-width="1.4"/>
<line x1="571.80" y1="29.90" x2="569.95" y2="38.08" stroke="#aecab7" stroke-width="1.5"/>
<line x1="569.95" y1="38.08" x2="568.10" y2="46.25" stroke="#c2aeea" stroke-width="1.4"/>
<line x1="571.80" y1="29.90" x2="563.69" y2="28.10" stroke="#aecab7" stroke-width="1.5"/>
<line x1="563.69" y1="28.10" x2="555.57" y2="26.30" stroke="#c2aeea" stroke-width="1.4"/>
<line x1="571.80" y1="62.60" x2="569.95" y2="54.42" stroke="#aecab7" stroke-width="1.5"/>
<line x1="569.95" y1="54.42" x2="568.10" y2="46.25" stroke="#c2aeea" stroke-width="1.4"/>
<line x1="571.80" y1="62.60" x2="579.91" y2="60.80" stroke="#aecab7" stroke-width="1.5"/>
<line x1="579.91" y1="60.80" x2="588.02" y2="59.00" stroke="#c2aeea" stroke-width="1.4"/>
<line x1="571.80" y1="62.60" x2="573.65" y2="70.78" stroke="#aecab7" stroke-width="1.5"/>
<line x1="573.65" y1="70.78" x2="575.50" y2="78.95" stroke="#c2aeea" stroke-width="1.4"/>
<line x1="571.80" y1="62.60" x2="563.69" y2="64.40" stroke="#aecab7" stroke-width="1.5"/>
<line x1="563.69" y1="64.40" x2="555.57" y2="66.20" stroke="#c2aeea" stroke-width="1.4"/>
<line x1="571.80" y1="95.30" x2="573.65" y2="87.12" stroke="#aecab7" stroke-width="1.5"/>
<line x1="573.65" y1="87.12" x2="575.50" y2="78.95" stroke="#c2aeea" stroke-width="1.4"/>
<line x1="571.80" y1="95.30" x2="579.91" y2="97.10" stroke="#aecab7" stroke-width="1.5"/>
<line x1="579.91" y1="97.10" x2="588.02" y2="98.90" stroke="#c2aeea" stroke-width="1.4"/>
<line x1="571.80" y1="95.30" x2="569.95" y2="103.48" stroke="#aecab7" stroke-width="1.5"/>
<line x1="569.95" y1="103.48" x2="568.10" y2="111.65" stroke="#c2aeea" stroke-width="1.4"/>
<line x1="571.80" y1="95.30" x2="563.69" y2="93.50" stroke="#aecab7" stroke-width="1.5"/>
<line x1="563.69" y1="93.50" x2="555.57" y2="91.70" stroke="#c2aeea" stroke-width="1.4"/>
<line x1="604.25" y1="29.90" x2="602.40" y2="21.72" stroke="#aecab7" stroke-width="1.5"/>
<line x1="602.40" y1="21.72" x2="600.55" y2="13.55" stroke="#c2aeea" stroke-width="1.4"/>
<line x1="604.25" y1="29.90" x2="612.36" y2="28.10" stroke="#aecab7" stroke-width="1.5"/>
<line x1="612.36" y1="28.10" x2="620.47" y2="26.30" stroke="#c2aeea" stroke-width="1.4"/>
<line x1="604.25" y1="29.90" x2="606.10" y2="38.08" stroke="#aecab7" stroke-width="1.5"/>
<line x1="606.10" y1="38.08" x2="607.95" y2="46.25" stroke="#c2aeea" stroke-width="1.4"/>
<line x1="604.25" y1="29.90" x2="596.14" y2="31.70" stroke="#aecab7" stroke-width="1.5"/>
<line x1="596.14" y1="31.70" x2="588.02" y2="33.50" stroke="#c2aeea" stroke-width="1.4"/>
<line x1="604.25" y1="62.60" x2="606.10" y2="54.42" stroke="#aecab7" stroke-width="1.5"/>
<line x1="606.10" y1="54.42" x2="607.95" y2="46.25" stroke="#c2aeea" stroke-width="1.4"/>
<line x1="604.25" y1="62.60" x2="612.36" y2="64.40" stroke="#aecab7" stroke-width="1.5"/>
<line x1="612.36" y1="64.40" x2="620.47" y2="66.20" stroke="#c2aeea" stroke-width="1.4"/>
<line x1="604.25" y1="62.60" x2="602.40" y2="70.78" stroke="#aecab7" stroke-width="1.5"/>
<line x1="602.40" y1="70.78" x2="600.55" y2="78.95" stroke="#c2aeea" stroke-width="1.4"/>
<line x1="604.25" y1="62.60" x2="596.14" y2="60.80" stroke="#aecab7" stroke-width="1.5"/>
<line x1="596.14" y1="60.80" x2="588.02" y2="59.00" stroke="#c2aeea" stroke-width="1.4"/>
<line x1="604.25" y1="95.30" x2="602.40" y2="87.12" stroke="#aecab7" stroke-width="1.5"/>
<line x1="602.40" y1="87.12" x2="600.55" y2="78.95" stroke="#c2aeea" stroke-width="1.4"/>
<line x1="604.25" y1="95.30" x2="612.36" y2="93.50" stroke="#aecab7" stroke-width="1.5"/>
<line x1="612.36" y1="93.50" x2="620.47" y2="91.70" stroke="#c2aeea" stroke-width="1.4"/>
<line x1="604.25" y1="95.30" x2="606.10" y2="103.48" stroke="#aecab7" stroke-width="1.5"/>
<line x1="606.10" y1="103.48" x2="607.95" y2="111.65" stroke="#c2aeea" stroke-width="1.4"/>
<line x1="604.25" y1="95.30" x2="596.14" y2="97.10" stroke="#aecab7" stroke-width="1.5"/>
<line x1="596.14" y1="97.10" x2="588.02" y2="98.90" stroke="#c2aeea" stroke-width="1.4"/>
<line x1="636.70" y1="29.90" x2="638.55" y2="21.72" stroke="#aecab7" stroke-width="1.5"/>
<line x1="638.55" y1="21.72" x2="640.40" y2="13.55" stroke="#c2aeea" stroke-width="1.4"/>
<line x1="636.70" y1="29.90" x2="644.81" y2="31.70" stroke="#aecab7" stroke-width="1.5"/>
<line x1="644.81" y1="31.70" x2="652.92" y2="33.50" stroke="#c2aeea" stroke-width="1.4"/>
<line x1="636.70" y1="29.90" x2="634.85" y2="38.08" stroke="#aecab7" stroke-width="1.5"/>
<line x1="634.85" y1="38.08" x2="633.00" y2="46.25" stroke="#c2aeea" stroke-width="1.4"/>
<line x1="636.70" y1="29.90" x2="628.59" y2="28.10" stroke="#aecab7" stroke-width="1.5"/>
<line x1="628.59" y1="28.10" x2="620.47" y2="26.30" stroke="#c2aeea" stroke-width="1.4"/>
<line x1="636.70" y1="62.60" x2="634.85" y2="54.42" stroke="#aecab7" stroke-width="1.5"/>
<line x1="634.85" y1="54.42" x2="633.00" y2="46.25" stroke="#c2aeea" stroke-width="1.4"/>
<line x1="636.70" y1="62.60" x2="644.81" y2="60.80" stroke="#aecab7" stroke-width="1.5"/>
<line x1="644.81" y1="60.80" x2="652.92" y2="59.00" stroke="#c2aeea" stroke-width="1.4"/>
<line x1="636.70" y1="62.60" x2="638.55" y2="70.78" stroke="#aecab7" stroke-width="1.5"/>
<line x1="638.55" y1="70.78" x2="640.40" y2="78.95" stroke="#c2aeea" stroke-width="1.4"/>
<line x1="636.70" y1="62.60" x2="628.59" y2="64.40" stroke="#aecab7" stroke-width="1.5"/>
<line x1="628.59" y1="64.40" x2="620.47" y2="66.20" stroke="#c2aeea" stroke-width="1.4"/>
<line x1="636.70" y1="95.30" x2="638.55" y2="87.12" stroke="#aecab7" stroke-width="1.5"/>
<line x1="638.55" y1="87.12" x2="640.40" y2="78.95" stroke="#c2aeea" stroke-width="1.4"/>
<line x1="636.70" y1="95.30" x2="644.81" y2="97.10" stroke="#aecab7" stroke-width="1.5"/>
<line x1="644.81" y1="97.10" x2="652.92" y2="98.90" stroke="#c2aeea" stroke-width="1.4"/>
<line x1="636.70" y1="95.30" x2="634.85" y2="103.48" stroke="#aecab7" stroke-width="1.5"/>
<line x1="634.85" y1="103.48" x2="633.00" y2="111.65" stroke="#c2aeea" stroke-width="1.4"/>
<line x1="636.70" y1="95.30" x2="628.59" y2="93.50" stroke="#aecab7" stroke-width="1.5"/>
<line x1="628.59" y1="93.50" x2="620.47" y2="91.70" stroke="#c2aeea" stroke-width="1.4"/>
<defs><radialGradient id="gni" cx="0.4" cy="0.35" r="0.7"><stop offset="0" stop-color="#dbe9df"/><stop offset="1" stop-color="#8fb59b"/></radialGradient><radialGradient id="go" cx="0.4" cy="0.35" r="0.7"><stop offset="0" stop-color="#c8a4ee"/><stop offset="0.5" stop-color="#8a50c8"/><stop offset="1" stop-color="#4e1288"/></radialGradient><radialGradient id="gni2" cx="0.4" cy="0.35" r="0.7"><stop offset="0" stop-color="#b5e0c0"/><stop offset="0.6" stop-color="#6aa87c"/><stop offset="1" stop-color="#3c7a4e"/></radialGradient><radialGradient id="go2" cx="0.4" cy="0.35" r="0.7"><stop offset="0" stop-color="#c6a6e6"/><stop offset="0.6" stop-color="#7a4ab0"/><stop offset="1" stop-color="#4e2a80"/></radialGradient><radialGradient id="gpr" cx="0.4" cy="0.35" r="0.7"><stop offset="0" stop-color="#f6b0b6"/><stop offset="0.6" stop-color="#d9505e"/><stop offset="1" stop-color="#a82838"/></radialGradient></defs>
<circle cx="555.57" cy="26.30" r="2.35" fill="url(#go)"/>
<circle cx="588.02" cy="33.50" r="2.35" fill="url(#go)"/>
<circle cx="620.47" cy="26.30" r="2.35" fill="url(#go)"/>
<circle cx="652.92" cy="33.50" r="2.35" fill="url(#go)"/>
<circle cx="555.57" cy="66.20" r="2.35" fill="url(#go)"/>
<circle cx="588.02" cy="59.00" r="2.35" fill="url(#go)"/>
<circle cx="620.47" cy="66.20" r="2.35" fill="url(#go)"/>
<circle cx="652.92" cy="59.00" r="2.35" fill="url(#go)"/>
<circle cx="555.57" cy="91.70" r="2.35" fill="url(#go)"/>
<circle cx="588.02" cy="98.90" r="2.35" fill="url(#go)"/>
<circle cx="620.47" cy="91.70" r="2.35" fill="url(#go)"/>
<circle cx="652.92" cy="98.90" r="2.35" fill="url(#go)"/>
<circle cx="575.50" cy="13.55" r="2.35" fill="url(#go)"/>
<circle cx="568.10" cy="46.25" r="2.35" fill="url(#go)"/>
<circle cx="575.50" cy="78.95" r="2.35" fill="url(#go)"/>
<circle cx="568.10" cy="111.65" r="2.35" fill="url(#go)"/>
<circle cx="600.55" cy="13.55" r="2.35" fill="url(#go)"/>
<circle cx="607.95" cy="46.25" r="2.35" fill="url(#go)"/>
<circle cx="600.55" cy="78.95" r="2.35" fill="url(#go)"/>
<circle cx="607.95" cy="111.65" r="2.35" fill="url(#go)"/>
<circle cx="640.40" cy="13.55" r="2.35" fill="url(#go)"/>
<circle cx="633.00" cy="46.25" r="2.35" fill="url(#go)"/>
<circle cx="640.40" cy="78.95" r="2.35" fill="url(#go)"/>
<circle cx="633.00" cy="111.65" r="2.35" fill="url(#go)"/>
<circle cx="571.80" cy="29.90" r="3.9" fill="url(#gni)"/>
<circle cx="571.80" cy="62.60" r="3.9" fill="url(#gni)"/>
<circle cx="571.80" cy="95.30" r="3.9" fill="url(#gni)"/>
<circle cx="604.25" cy="29.90" r="3.9" fill="url(#gni)"/>
<circle cx="604.25" cy="62.60" r="3.9" fill="url(#gni)"/>
<circle cx="604.25" cy="95.30" r="3.9" fill="url(#gni)"/>
<circle cx="636.70" cy="29.90" r="3.9" fill="url(#gni)"/>
<circle cx="636.70" cy="62.60" r="3.9" fill="url(#gni)"/>
<circle cx="636.70" cy="95.30" r="3.9" fill="url(#gni)"/>
<path d="M572.7 61.7 Q577 36 603.7 30.1" fill="none" stroke="#f2a0a8" stroke-width="1.5"/>
<path d="M572.7 61.7 Q588 50 603.7 61.7" fill="none" stroke="#f2a0a8" stroke-width="1.5"/>
<text x="578.6" y="42.8" font-size="9.8" font-style="italic" fill="#333" stroke="none">J<tspan font-size="6.6" dy="1.4" font-style="normal">2</tspan></text>
<text x="586.6" y="57.4" font-size="9.8" font-style="italic" fill="#333" stroke="none">J<tspan font-size="6.6" dy="1.4" font-style="normal">1</tspan></text>
<circle cx="665.8" cy="85.9" r="3.8" fill="url(#gni2)"/>
<circle cx="665.8" cy="97.6" r="3.8" fill="url(#go2)"/>
<circle cx="665.8" cy="109.3" r="3.8" fill="url(#gpr)"/>
<text x="673.2" y="89.6" font-size="9.4" fill="#222" stroke="#222" stroke-width="0.12">Ni</text>
<text x="673.2" y="101.8" font-size="9.4" fill="#222" stroke="#222" stroke-width="0.12">O</text>
<text x="673.2" y="113.4" font-size="9.4" fill="#222" stroke="#222" stroke-width="0.12">Pr</text>
<text x="535.6" y="137.6" font-size="13.5" font-weight="bold" fill="#111" stroke="#111" stroke-width="0.12">d</text>
<path d="M578.90 138.10 L604.10 163.30 L578.90 188.50 L553.70 163.30Z" fill="none" stroke="#9d70e6" stroke-width="1.00"/>
<path d="M578.90 141.70 L600.50 163.30 L578.90 184.90 L557.30 163.30Z" fill="none" stroke="#cdb6f3" stroke-width="0.90"/>
<path d="M578.90 188.10 L604.10 213.30 L578.90 238.50 L553.70 213.30Z" fill="none" stroke="#9d70e6" stroke-width="1.00"/>
<path d="M578.90 191.70 L600.50 213.30 L578.90 234.90 L557.30 213.30Z" fill="none" stroke="#cdb6f3" stroke-width="0.90"/>
<path d="M629.20 138.10 L654.40 163.30 L629.20 188.50 L604.00 163.30Z" fill="none" stroke="#9d70e6" stroke-width="1.00"/>
<path d="M629.20 141.70 L650.80 163.30 L629.20 184.90 L607.60 163.30Z" fill="none" stroke="#cdb6f3" stroke-width="0.90"/>
<path d="M629.20 188.10 L654.40 213.30 L629.20 238.50 L604.00 213.30Z" fill="none" stroke="#9d70e6" stroke-width="1.00"/>
<path d="M629.20 191.70 L650.80 213.30 L629.20 234.90 L607.60 213.30Z" fill="none" stroke="#cdb6f3" stroke-width="0.90"/>
<ellipse cx="578.90" cy="142.80" rx="3.30" ry="3.10" fill="#fff" stroke="#c7aef0" stroke-width="0.8"/>
<ellipse cx="599.40" cy="163.30" rx="3.10" ry="3.30" fill="#fff" stroke="#c7aef0" stroke-width="0.8"/>
<ellipse cx="578.90" cy="183.80" rx="3.30" ry="3.10" fill="#fff" stroke="#c7aef0" stroke-width="0.8"/>
<ellipse cx="558.40" cy="163.30" rx="3.10" ry="3.30" fill="#fff" stroke="#c7aef0" stroke-width="0.8"/>
<ellipse cx="578.90" cy="243.30" rx="3.30" ry="3.10" fill="#fff" stroke="#c7aef0" stroke-width="0.8"/>
<ellipse cx="548.90" cy="213.30" rx="3.10" ry="3.30" fill="#fff" stroke="#c7aef0" stroke-width="0.8"/>
<ellipse cx="629.20" cy="133.30" rx="3.30" ry="3.10" fill="#fff" stroke="#c7aef0" stroke-width="0.8"/>
<ellipse cx="659.20" cy="163.30" rx="3.10" ry="3.30" fill="#fff" stroke="#c7aef0" stroke-width="0.8"/>
<ellipse cx="629.20" cy="192.80" rx="3.30" ry="3.10" fill="#fff" stroke="#c7aef0" stroke-width="0.8"/>
<ellipse cx="649.70" cy="213.30" rx="3.10" ry="3.30" fill="#fff" stroke="#c7aef0" stroke-width="0.8"/>
<ellipse cx="629.20" cy="233.80" rx="3.30" ry="3.10" fill="#fff" stroke="#c7aef0" stroke-width="0.8"/>
<ellipse cx="608.70" cy="213.30" rx="3.10" ry="3.30" fill="#fff" stroke="#c7aef0" stroke-width="0.8"/>
<ellipse cx="578.90" cy="137.60" rx="3.35" ry="3.90" fill="#a07ae6" fill-opacity="0.78" stroke="#8058c8" stroke-width="0.5" stroke-opacity="0.7"/>
<ellipse cx="578.90" cy="130.30" rx="3.35" ry="3.90" fill="#a07ae6" fill-opacity="0.78" stroke="#8058c8" stroke-width="0.5" stroke-opacity="0.7"/>
<ellipse cx="604.60" cy="163.30" rx="3.90" ry="3.35" fill="#a07ae6" fill-opacity="0.78" stroke="#8058c8" stroke-width="0.5" stroke-opacity="0.7"/>
<ellipse cx="611.90" cy="163.30" rx="3.90" ry="3.35" fill="#a07ae6" fill-opacity="0.78" stroke="#8058c8" stroke-width="0.5" stroke-opacity="0.7"/>
<ellipse cx="578.90" cy="189.00" rx="3.35" ry="3.90" fill="#a07ae6" fill-opacity="0.78" stroke="#8058c8" stroke-width="0.5" stroke-opacity="0.7"/>
<ellipse cx="578.90" cy="196.30" rx="3.35" ry="3.90" fill="#a07ae6" fill-opacity="0.78" stroke="#8058c8" stroke-width="0.5" stroke-opacity="0.7"/>
<ellipse cx="553.20" cy="163.30" rx="3.90" ry="3.35" fill="#a07ae6" fill-opacity="0.78" stroke="#8058c8" stroke-width="0.5" stroke-opacity="0.7"/>
<ellipse cx="545.90" cy="163.30" rx="3.90" ry="3.35" fill="#a07ae6" fill-opacity="0.78" stroke="#8058c8" stroke-width="0.5" stroke-opacity="0.7"/>
<ellipse cx="578.90" cy="230.10" rx="3.35" ry="3.90" fill="#a07ae6" fill-opacity="0.78" stroke="#8058c8" stroke-width="0.5" stroke-opacity="0.7"/>
<ellipse cx="578.90" cy="237.60" rx="3.35" ry="3.90" fill="#a07ae6" fill-opacity="0.78" stroke="#8058c8" stroke-width="0.5" stroke-opacity="0.7"/>
<ellipse cx="562.10" cy="213.30" rx="3.90" ry="3.35" fill="#a07ae6" fill-opacity="0.78" stroke="#8058c8" stroke-width="0.5" stroke-opacity="0.7"/>
<ellipse cx="554.60" cy="213.30" rx="3.90" ry="3.35" fill="#a07ae6" fill-opacity="0.78" stroke="#8058c8" stroke-width="0.5" stroke-opacity="0.7"/>
<ellipse cx="629.20" cy="146.50" rx="3.35" ry="3.90" fill="#a07ae6" fill-opacity="0.78" stroke="#8058c8" stroke-width="0.5" stroke-opacity="0.7"/>
<ellipse cx="629.20" cy="139.00" rx="3.35" ry="3.90" fill="#a07ae6" fill-opacity="0.78" stroke="#8058c8" stroke-width="0.5" stroke-opacity="0.7"/>
<ellipse cx="646.00" cy="163.30" rx="3.90" ry="3.35" fill="#a07ae6" fill-opacity="0.78" stroke="#8058c8" stroke-width="0.5" stroke-opacity="0.7"/>
<ellipse cx="653.50" cy="163.30" rx="3.90" ry="3.35" fill="#a07ae6" fill-opacity="0.78" stroke="#8058c8" stroke-width="0.5" stroke-opacity="0.7"/>
<ellipse cx="629.20" cy="187.60" rx="3.35" ry="3.90" fill="#a07ae6" fill-opacity="0.78" stroke="#8058c8" stroke-width="0.5" stroke-opacity="0.7"/>
<ellipse cx="629.20" cy="180.30" rx="3.35" ry="3.90" fill="#a07ae6" fill-opacity="0.78" stroke="#8058c8" stroke-width="0.5" stroke-opacity="0.7"/>
<ellipse cx="654.90" cy="213.30" rx="3.90" ry="3.35" fill="#a07ae6" fill-opacity="0.78" stroke="#8058c8" stroke-width="0.5" stroke-opacity="0.7"/>
<ellipse cx="662.20" cy="213.30" rx="3.90" ry="3.35" fill="#a07ae6" fill-opacity="0.78" stroke="#8058c8" stroke-width="0.5" stroke-opacity="0.7"/>
<ellipse cx="629.20" cy="239.00" rx="3.35" ry="3.90" fill="#a07ae6" fill-opacity="0.78" stroke="#8058c8" stroke-width="0.5" stroke-opacity="0.7"/>
<ellipse cx="629.20" cy="246.30" rx="3.35" ry="3.90" fill="#a07ae6" fill-opacity="0.78" stroke="#8058c8" stroke-width="0.5" stroke-opacity="0.7"/>
<ellipse cx="603.50" cy="213.30" rx="3.90" ry="3.35" fill="#a07ae6" fill-opacity="0.78" stroke="#8058c8" stroke-width="0.5" stroke-opacity="0.7"/>
<ellipse cx="596.20" cy="213.30" rx="3.90" ry="3.35" fill="#a07ae6" fill-opacity="0.78" stroke="#8058c8" stroke-width="0.5" stroke-opacity="0.7"/>
<ellipse cx="585.50" cy="163.30" rx="6.1" ry="3.95" transform="rotate(0 578.90 163.30)" fill="#b2e1b2" stroke="#80bf76" stroke-width="0.7"/>
<ellipse cx="585.50" cy="163.30" rx="6.1" ry="3.95" transform="rotate(90 578.90 163.30)" fill="#b2e1b2" stroke="#80bf76" stroke-width="0.7"/>
<ellipse cx="585.50" cy="163.30" rx="6.1" ry="3.95" transform="rotate(180 578.90 163.30)" fill="#b2e1b2" stroke="#80bf76" stroke-width="0.7"/>
<ellipse cx="585.50" cy="163.30" rx="6.1" ry="3.95" transform="rotate(270 578.90 163.30)" fill="#b2e1b2" stroke="#80bf76" stroke-width="0.7"/>
<ellipse cx="585.50" cy="213.30" rx="6.1" ry="3.95" transform="rotate(0 578.90 213.30)" fill="#b2e1b2" stroke="#80bf76" stroke-width="0.7"/>
<ellipse cx="585.50" cy="213.30" rx="6.1" ry="3.95" transform="rotate(90 578.90 213.30)" fill="#b2e1b2" stroke="#80bf76" stroke-width="0.7"/>
<ellipse cx="585.50" cy="213.30" rx="6.1" ry="3.95" transform="rotate(180 578.90 213.30)" fill="#b2e1b2" stroke="#80bf76" stroke-width="0.7"/>
<ellipse cx="585.50" cy="213.30" rx="6.1" ry="3.95" transform="rotate(270 578.90 213.30)" fill="#b2e1b2" stroke="#80bf76" stroke-width="0.7"/>
<ellipse cx="635.80" cy="163.30" rx="6.1" ry="3.95" transform="rotate(0 629.20 163.30)" fill="#b2e1b2" stroke="#80bf76" stroke-width="0.7"/>
<ellipse cx="635.80" cy="163.30" rx="6.1" ry="3.95" transform="rotate(90 629.20 163.30)" fill="#b2e1b2" stroke="#80bf76" stroke-width="0.7"/>
<ellipse cx="635.80" cy="163.30" rx="6.1" ry="3.95" transform="rotate(180 629.20 163.30)" fill="#b2e1b2" stroke="#80bf76" stroke-width="0.7"/>
<ellipse cx="635.80" cy="163.30" rx="6.1" ry="3.95" transform="rotate(270 629.20 163.30)" fill="#b2e1b2" stroke="#80bf76" stroke-width="0.7"/>
<ellipse cx="635.80" cy="213.30" rx="6.1" ry="3.95" transform="rotate(0 629.20 213.30)" fill="#b2e1b2" stroke="#80bf76" stroke-width="0.7"/>
<ellipse cx="635.80" cy="213.30" rx="6.1" ry="3.95" transform="rotate(90 629.20 213.30)" fill="#b2e1b2" stroke="#80bf76" stroke-width="0.7"/>
<ellipse cx="635.80" cy="213.30" rx="6.1" ry="3.95" transform="rotate(180 629.20 213.30)" fill="#b2e1b2" stroke="#80bf76" stroke-width="0.7"/>
<ellipse cx="635.80" cy="213.30" rx="6.1" ry="3.95" transform="rotate(270 629.20 213.30)" fill="#b2e1b2" stroke="#80bf76" stroke-width="0.7"/>
</svg>
</body></html>
